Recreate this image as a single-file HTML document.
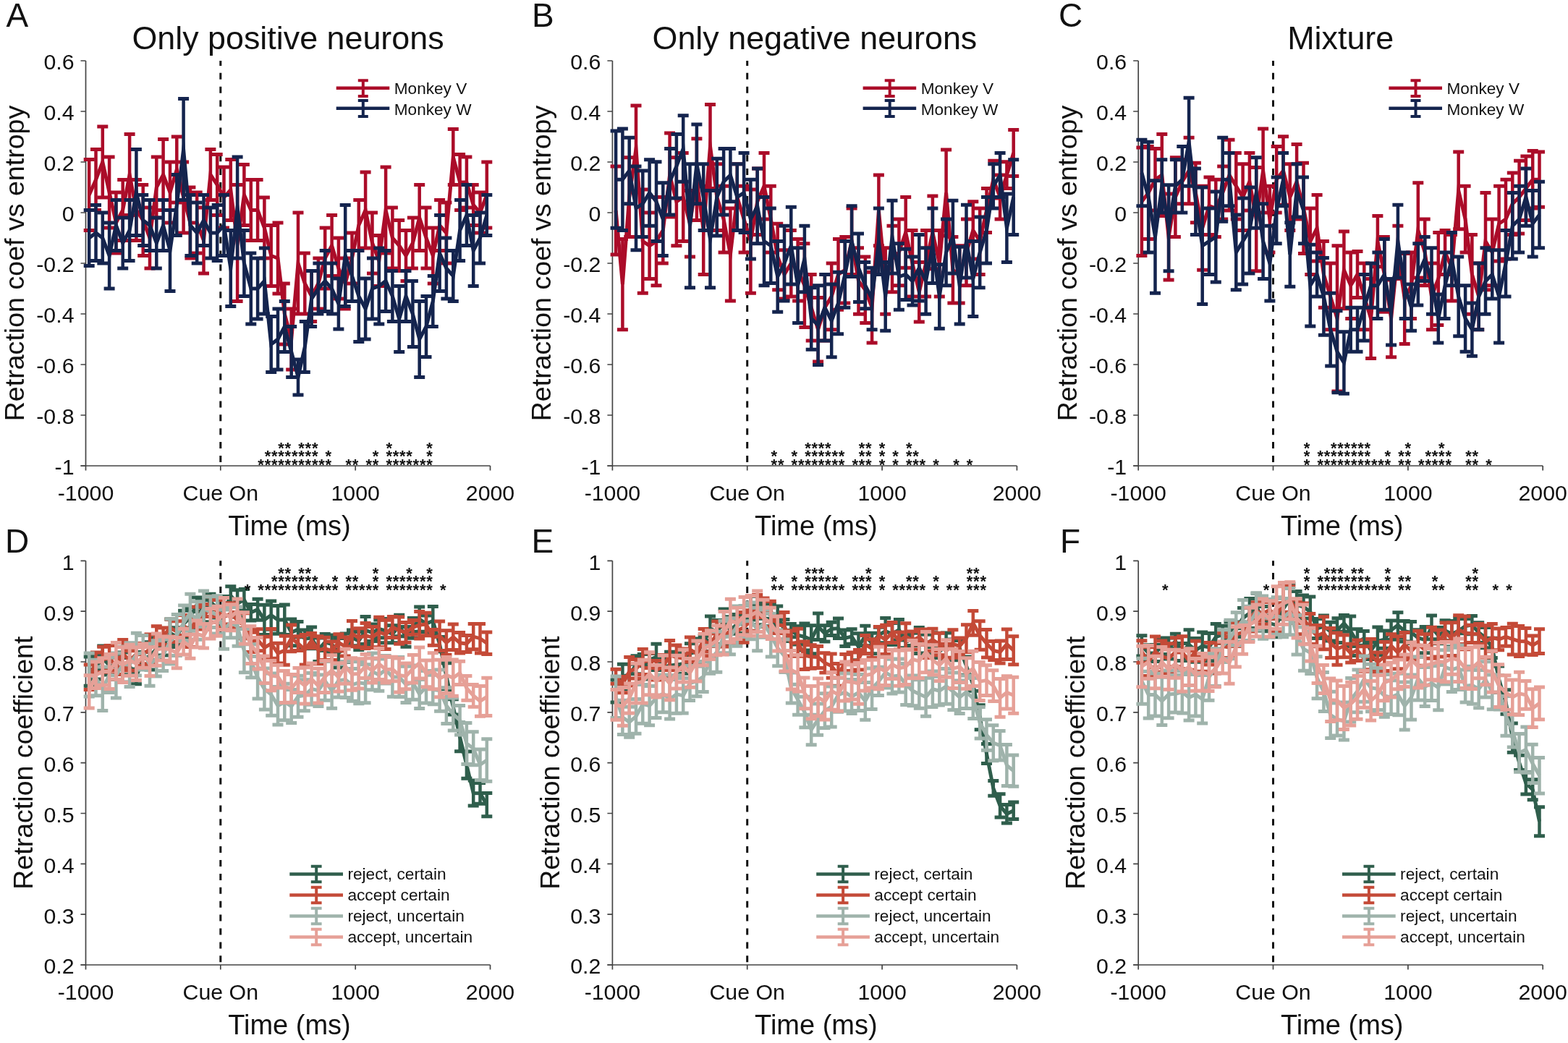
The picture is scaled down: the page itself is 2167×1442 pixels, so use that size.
<!DOCTYPE html><html><head><meta charset="utf-8"><title>Figure</title><style>html,body{margin:0;padding:0;background:#fff;overflow:hidden}svg{display:block}</style></head><body><svg width="2167" height="1442" viewBox="0 0 2167 1442">
<rect width="2167" height="1442" fill="#fff"/>
<style>text{font-family:'Liberation Sans', Arial, sans-serif;fill:#111} .tl{font-size:30.3px} .xl{font-size:38px} .yl{font-size:37.6px} .ttl{font-size:44.85px} .pl{font-size:46px} .lg{font-size:22.6px} .lb{font-size:22.7px} .st{font-size:22px;font-weight:bold}</style>
<text x="398.0" y="67.8" text-anchor="middle" class="ttl">Only positive neurons</text>
<text x="8.5" y="36.8" class="pl">A</text>
<text x="7.0" y="763.8" class="pl">D</text>
<path d="M118.5 84.0 V650.5 M111.5 644.0 H677.5" stroke="#444" stroke-width="1.7" fill="none"/>
<path d="M111.5 84.0 H118.5 M111.5 154.0 H118.5 M111.5 224.0 H118.5 M111.5 294.0 H118.5 M111.5 364.0 H118.5 M111.5 434.0 H118.5 M111.5 504.0 H118.5 M111.5 574.0 H118.5 M111.5 644.0 H118.5 M304.8 644.0 V650.5 M491.2 644.0 V650.5 M677.5 644.0 V650.5" stroke="#444" stroke-width="1.7" fill="none"/>
<text x="102.5" y="96.4" text-anchor="end" class="tl">0.6</text>
<text x="102.5" y="166.4" text-anchor="end" class="tl">0.4</text>
<text x="102.5" y="236.4" text-anchor="end" class="tl">0.2</text>
<text x="102.5" y="306.4" text-anchor="end" class="tl">0</text>
<text x="102.5" y="376.4" text-anchor="end" class="tl">-0.2</text>
<text x="102.5" y="446.4" text-anchor="end" class="tl">-0.4</text>
<text x="102.5" y="516.4" text-anchor="end" class="tl">-0.6</text>
<text x="102.5" y="586.4" text-anchor="end" class="tl">-0.8</text>
<text x="102.5" y="656.4" text-anchor="end" class="tl">-1</text>
<text x="118.5" y="692.0" text-anchor="middle" class="tl">-1000</text>
<text x="304.8" y="692.0" text-anchor="middle" class="tl">Cue On</text>
<text x="491.2" y="692.0" text-anchor="middle" class="tl">1000</text>
<text x="677.5" y="692.0" text-anchor="middle" class="tl">2000</text>
<line x1="304.8" y1="84.0" x2="304.8" y2="644.0" stroke="#111" stroke-width="3" stroke-dasharray="9 9.9" stroke-dashoffset="-16.8"/>
<text x="400.0" y="740.0" text-anchor="middle" class="xl">Time (ms)</text>
<text transform="translate(33.3 364.0) rotate(-90)" text-anchor="middle" class="yl">Retraction coef vs entropy</text>
<path d="M118.5 775.3 V1340.5 M111.5 1334.0 H677.5" stroke="#444" stroke-width="1.7" fill="none"/>
<path d="M111.5 775.3 H118.5 M111.5 845.1 H118.5 M111.5 915.0 H118.5 M111.5 984.8 H118.5 M111.5 1054.7 H118.5 M111.5 1124.5 H118.5 M111.5 1194.3 H118.5 M111.5 1264.2 H118.5 M111.5 1334.0 H118.5 M304.8 1334.0 V1340.5 M491.2 1334.0 V1340.5 M677.5 1334.0 V1340.5" stroke="#444" stroke-width="1.7" fill="none"/>
<text x="102.5" y="787.7" text-anchor="end" class="tl">1</text>
<text x="102.5" y="857.5" text-anchor="end" class="tl">0.9</text>
<text x="102.5" y="927.4" text-anchor="end" class="tl">0.8</text>
<text x="102.5" y="997.2" text-anchor="end" class="tl">0.7</text>
<text x="102.5" y="1067.1" text-anchor="end" class="tl">0.6</text>
<text x="102.5" y="1136.9" text-anchor="end" class="tl">0.5</text>
<text x="102.5" y="1206.7" text-anchor="end" class="tl">0.4</text>
<text x="102.5" y="1276.6" text-anchor="end" class="tl">0.3</text>
<text x="102.5" y="1346.4" text-anchor="end" class="tl">0.2</text>
<text x="118.5" y="1382.0" text-anchor="middle" class="tl">-1000</text>
<text x="304.8" y="1382.0" text-anchor="middle" class="tl">Cue On</text>
<text x="491.2" y="1382.0" text-anchor="middle" class="tl">1000</text>
<text x="677.5" y="1382.0" text-anchor="middle" class="tl">2000</text>
<line x1="304.8" y1="775.3" x2="304.8" y2="1334.0" stroke="#111" stroke-width="3" stroke-dasharray="9 9.9" stroke-dashoffset="-16.8"/>
<text x="400.0" y="1430.0" text-anchor="middle" class="xl">Time (ms)</text>
<text transform="translate(44.7 1054.7) rotate(-90)" text-anchor="middle" class="yl">Retraction coefficient</text>
<g stroke="#ab0c29" fill="none" stroke-linejoin="miter" stroke-miterlimit="10"><path d="M123.2 269.5 L132.5 248.5 L141.8 224.0 L151.1 266.0 L160.4 308.0 L169.7 290.5 L179.1 241.5 L188.4 290.5 L197.7 304.5 L207.0 329.0 L216.3 259.0 L225.6 241.5 L235.0 266.0 L244.3 234.5 L253.6 273.0 L262.9 308.0 L272.2 308.0 L281.5 332.5 L290.9 241.5 L300.2 255.5 L309.5 273.0 L318.8 262.5 L328.1 336.0 L337.4 269.5 L346.8 290.5 L356.1 290.5 L365.4 315.0 L374.7 353.5 L384.0 357.0 L393.3 434.0 L402.7 469.0 L412.0 364.0 L421.3 392.0 L430.6 409.5 L439.9 392.0 L449.2 357.0 L458.6 339.5 L467.9 371.0 L477.2 392.0 L486.5 357.0 L495.8 311.5 L505.1 290.5 L514.5 336.0 L523.8 360.5 L533.1 290.5 L542.4 329.0 L551.7 339.5 L561.0 353.5 L570.4 336.0 L579.7 301.0 L589.0 329.0 L598.3 353.5 L607.6 311.5 L616.9 322.0 L626.3 217.0 L635.6 252.0 L644.9 252.0 L654.2 283.5 L663.5 294.0 L672.8 269.5" stroke-width="5"/><path d="M123.2 220.5V318.5M132.5 206.5V290.5M141.8 175.0V273.0M151.1 217.0V315.0M160.4 266.0V350.0M169.7 248.5V332.5M179.1 185.5V297.5M188.4 248.5V332.5M197.7 255.5V353.5M207.0 287.0V371.0M216.3 217.0V301.0M225.6 192.5V290.5M235.0 224.0V308.0M244.3 189.0V280.0M253.6 224.0V322.0M262.9 259.0V357.0M272.2 266.0V350.0M281.5 287.0V378.0M290.9 206.5V276.5M300.2 213.5V297.5M309.5 231.0V315.0M318.8 220.5V304.5M328.1 255.5V416.5M337.4 227.5V311.5M346.8 248.5V332.5M356.1 248.5V332.5M365.4 273.0V357.0M374.7 311.5V395.5M384.0 308.0V406.0M393.3 392.0V476.0M402.7 427.0V511.0M412.0 294.0V434.0M421.3 350.0V434.0M430.6 374.5V444.5M439.9 357.0V427.0M449.2 315.0V399.0M458.6 297.5V381.5M467.9 329.0V413.0M477.2 357.0V427.0M486.5 322.0V392.0M495.8 276.5V346.5M505.1 238.0V343.0M514.5 294.0V378.0M523.8 325.5V395.5M533.1 231.0V350.0M542.4 287.0V371.0M551.7 304.5V374.5M561.0 318.5V388.5M570.4 301.0V371.0M579.7 255.5V346.5M589.0 287.0V371.0M598.3 315.0V392.0M607.6 276.5V346.5M616.9 280.0V364.0M626.3 178.5V255.5M635.6 213.5V290.5M644.9 217.0V287.0M654.2 255.5V311.5M663.5 266.0V322.0M672.8 224.0V315.0" stroke-width="4.5"/><path d="M115.7 220.5h15M115.7 318.5h15M125.0 206.5h15M125.0 290.5h15M134.3 175.0h15M134.3 273.0h15M143.6 217.0h15M143.6 315.0h15M152.9 266.0h15M152.9 350.0h15M162.2 248.5h15M162.2 332.5h15M171.6 185.5h15M171.6 297.5h15M180.9 248.5h15M180.9 332.5h15M190.2 255.5h15M190.2 353.5h15M199.5 287.0h15M199.5 371.0h15M208.8 217.0h15M208.8 301.0h15M218.1 192.5h15M218.1 290.5h15M227.5 224.0h15M227.5 308.0h15M236.8 189.0h15M236.8 280.0h15M246.1 224.0h15M246.1 322.0h15M255.4 259.0h15M255.4 357.0h15M264.7 266.0h15M264.7 350.0h15M274.0 287.0h15M274.0 378.0h15M283.4 206.5h15M283.4 276.5h15M292.7 213.5h15M292.7 297.5h15M302.0 231.0h15M302.0 315.0h15M311.3 220.5h15M311.3 304.5h15M320.6 255.5h15M320.6 416.5h15M329.9 227.5h15M329.9 311.5h15M339.3 248.5h15M339.3 332.5h15M348.6 248.5h15M348.6 332.5h15M357.9 273.0h15M357.9 357.0h15M367.2 311.5h15M367.2 395.5h15M376.5 308.0h15M376.5 406.0h15M385.8 392.0h15M385.8 476.0h15M395.2 427.0h15M395.2 511.0h15M404.5 294.0h15M404.5 434.0h15M413.8 350.0h15M413.8 434.0h15M423.1 374.5h15M423.1 444.5h15M432.4 357.0h15M432.4 427.0h15M441.7 315.0h15M441.7 399.0h15M451.1 297.5h15M451.1 381.5h15M460.4 329.0h15M460.4 413.0h15M469.7 357.0h15M469.7 427.0h15M479.0 322.0h15M479.0 392.0h15M488.3 276.5h15M488.3 346.5h15M497.6 238.0h15M497.6 343.0h15M507.0 294.0h15M507.0 378.0h15M516.3 325.5h15M516.3 395.5h15M525.6 231.0h15M525.6 350.0h15M534.9 287.0h15M534.9 371.0h15M544.2 304.5h15M544.2 374.5h15M553.5 318.5h15M553.5 388.5h15M562.9 301.0h15M562.9 371.0h15M572.2 255.5h15M572.2 346.5h15M581.5 287.0h15M581.5 371.0h15M590.8 315.0h15M590.8 392.0h15M600.1 276.5h15M600.1 346.5h15M609.4 280.0h15M609.4 364.0h15M618.8 178.5h15M618.8 255.5h15M628.1 213.5h15M628.1 290.5h15M637.4 217.0h15M637.4 287.0h15M646.7 255.5h15M646.7 311.5h15M656.0 266.0h15M656.0 322.0h15M665.3 224.0h15M665.3 315.0h15" stroke-width="5"/></g>
<g stroke="#14244e" fill="none" stroke-linejoin="miter" stroke-miterlimit="10"><path d="M123.2 329.0 L132.5 322.0 L141.8 329.0 L151.1 353.5 L160.4 311.5 L169.7 336.0 L179.1 318.5 L188.4 266.0 L197.7 304.5 L207.0 311.5 L216.3 336.0 L225.6 311.5 L235.0 346.5 L244.3 283.5 L253.6 206.5 L262.9 311.5 L272.2 322.0 L281.5 304.5 L290.9 322.0 L300.2 322.0 L309.5 311.5 L318.8 371.0 L328.1 287.0 L337.4 364.0 L346.8 399.0 L356.1 399.0 L365.4 388.5 L374.7 476.0 L384.0 469.0 L393.3 451.5 L402.7 486.5 L412.0 521.5 L421.3 479.5 L430.6 413.0 L439.9 399.0 L449.2 388.5 L458.6 399.0 L467.9 420.0 L477.2 353.5 L486.5 381.5 L495.8 409.5 L505.1 427.0 L514.5 399.0 L523.8 395.5 L533.1 388.5 L542.4 409.5 L551.7 441.0 L561.0 409.5 L570.4 434.0 L579.7 469.0 L589.0 451.5 L598.3 416.5 L607.6 350.0 L616.9 371.0 L626.3 381.5 L635.6 318.5 L644.9 297.5 L654.2 346.5 L663.5 329.0 L672.8 297.5" stroke-width="5"/><path d="M123.2 290.5V367.5M132.5 283.5V360.5M141.8 294.0V364.0M151.1 308.0V399.0M160.4 276.5V346.5M169.7 301.0V371.0M179.1 276.5V360.5M188.4 206.5V325.5M197.7 269.5V339.5M207.0 276.5V346.5M216.3 301.0V371.0M225.6 276.5V346.5M235.0 290.5V402.5M244.3 241.5V325.5M253.6 136.5V276.5M262.9 269.5V353.5M272.2 280.0V364.0M281.5 269.5V339.5M290.9 287.0V357.0M300.2 283.5V360.5M309.5 269.5V353.5M318.8 318.5V423.5M328.1 217.0V357.0M337.4 318.5V409.5M346.8 350.0V448.0M356.1 357.0V441.0M365.4 343.0V434.0M374.7 437.5V514.5M384.0 427.0V511.0M393.3 416.5V486.5M402.7 451.5V521.5M412.0 497.0V546.0M421.3 444.5V514.5M430.6 374.5V451.5M439.9 364.0V434.0M449.2 346.5V430.5M458.6 364.0V434.0M467.9 385.0V455.0M477.2 283.5V423.5M486.5 346.5V416.5M495.8 346.5V472.5M505.1 385.0V469.0M514.5 357.0V441.0M523.8 343.0V448.0M533.1 346.5V430.5M542.4 374.5V444.5M551.7 395.5V486.5M561.0 374.5V444.5M570.4 388.5V479.5M579.7 416.5V521.5M589.0 409.5V493.5M598.3 381.5V451.5M607.6 297.5V402.5M616.9 329.0V413.0M626.3 346.5V416.5M635.6 276.5V360.5M644.9 255.5V339.5M654.2 297.5V395.5M663.5 294.0V364.0M672.8 269.5V325.5" stroke-width="4.5"/><path d="M115.7 290.5h15M115.7 367.5h15M125.0 283.5h15M125.0 360.5h15M134.3 294.0h15M134.3 364.0h15M143.6 308.0h15M143.6 399.0h15M152.9 276.5h15M152.9 346.5h15M162.2 301.0h15M162.2 371.0h15M171.6 276.5h15M171.6 360.5h15M180.9 206.5h15M180.9 325.5h15M190.2 269.5h15M190.2 339.5h15M199.5 276.5h15M199.5 346.5h15M208.8 301.0h15M208.8 371.0h15M218.1 276.5h15M218.1 346.5h15M227.5 290.5h15M227.5 402.5h15M236.8 241.5h15M236.8 325.5h15M246.1 136.5h15M246.1 276.5h15M255.4 269.5h15M255.4 353.5h15M264.7 280.0h15M264.7 364.0h15M274.0 269.5h15M274.0 339.5h15M283.4 287.0h15M283.4 357.0h15M292.7 283.5h15M292.7 360.5h15M302.0 269.5h15M302.0 353.5h15M311.3 318.5h15M311.3 423.5h15M320.6 217.0h15M320.6 357.0h15M329.9 318.5h15M329.9 409.5h15M339.3 350.0h15M339.3 448.0h15M348.6 357.0h15M348.6 441.0h15M357.9 343.0h15M357.9 434.0h15M367.2 437.5h15M367.2 514.5h15M376.5 427.0h15M376.5 511.0h15M385.8 416.5h15M385.8 486.5h15M395.2 451.5h15M395.2 521.5h15M404.5 497.0h15M404.5 546.0h15M413.8 444.5h15M413.8 514.5h15M423.1 374.5h15M423.1 451.5h15M432.4 364.0h15M432.4 434.0h15M441.7 346.5h15M441.7 430.5h15M451.1 364.0h15M451.1 434.0h15M460.4 385.0h15M460.4 455.0h15M469.7 283.5h15M469.7 423.5h15M479.0 346.5h15M479.0 416.5h15M488.3 346.5h15M488.3 472.5h15M497.6 385.0h15M497.6 469.0h15M507.0 357.0h15M507.0 441.0h15M516.3 343.0h15M516.3 448.0h15M525.6 346.5h15M525.6 430.5h15M534.9 374.5h15M534.9 444.5h15M544.2 395.5h15M544.2 486.5h15M553.5 374.5h15M553.5 444.5h15M562.9 388.5h15M562.9 479.5h15M572.2 416.5h15M572.2 521.5h15M581.5 409.5h15M581.5 493.5h15M590.8 381.5h15M590.8 451.5h15M600.1 297.5h15M600.1 402.5h15M609.4 329.0h15M609.4 413.0h15M618.8 346.5h15M618.8 416.5h15M628.1 276.5h15M628.1 360.5h15M637.4 255.5h15M637.4 339.5h15M646.7 297.5h15M646.7 395.5h15M656.0 294.0h15M656.0 364.0h15M665.3 269.5h15M665.3 325.5h15" stroke-width="5"/></g>
<g stroke="#2f5e4c" fill="none" stroke-linejoin="miter" stroke-miterlimit="10"><path d="M123.2 928.1 L132.5 922.5 L141.8 909.7 L151.1 919.9 L160.4 921.8 L169.7 922.7 L179.1 921.1 L188.4 935.3 L197.7 911.5 L207.0 906.9 L216.3 897.2 L225.6 893.3 L235.0 875.2 L244.3 880.1 L253.6 862.6 L262.9 853.8 L272.2 835.7 L281.5 844.8 L290.9 831.9 L300.2 841.2 L309.5 845.1 L318.8 823.4 L328.1 834.4 L337.4 829.3 L346.8 846.8 L356.1 842.7 L365.4 856.9 L374.7 850.5 L384.0 857.0 L393.3 856.7 L402.7 874.4 L412.0 870.2 L421.3 883.4 L430.6 881.9 L439.9 898.2 L449.2 887.9 L458.6 890.7 L467.9 902.7 L477.2 895.6 L486.5 881.8 L495.8 886.0 L505.1 871.4 L514.5 874.7 L523.8 869.4 L533.1 872.1 L542.4 876.8 L551.7 865.0 L561.0 880.4 L570.4 868.4 L579.7 856.0 L589.0 862.3 L598.3 858.3 L607.6 890.7 L616.9 934.7 L626.3 977.4 L635.6 1019.0 L644.9 1057.7 L654.2 1096.5 L663.5 1096.8 L672.8 1112.6" stroke-width="5"/><path d="M123.2 908.0V948.3M132.5 906.2V938.9M141.8 892.9V926.5M151.1 906.7V933.1M160.4 904.3V939.4M169.7 902.1V943.2M179.1 909.6V932.7M188.4 924.9V945.8M197.7 901.4V921.6M207.0 887.7V926.0M216.3 881.8V912.6M225.6 880.4V906.1M235.0 856.0V894.4M244.3 867.7V892.4M253.6 844.2V880.9M262.9 839.7V867.9M272.2 825.9V845.5M281.5 829.7V859.8M290.9 821.3V842.4M300.2 828.4V854.0M309.5 824.5V865.6M318.8 810.8V835.9M328.1 815.7V853.1M337.4 814.5V844.0M346.8 835.6V858.1M356.1 828.3V857.2M365.4 836.3V877.6M374.7 830.9V870.2M384.0 837.6V876.3M393.3 835.9V877.6M402.7 856.0V892.8M412.0 859.6V880.8M421.3 870.9V895.9M430.6 867.0V896.7M439.9 882.0V914.4M449.2 876.4V899.4M458.6 878.1V903.2M467.9 882.4V923.0M477.2 876.0V915.3M486.5 870.9V892.8M495.8 873.6V898.5M505.1 852.4V890.4M514.5 863.0V886.4M523.8 857.1V881.7M533.1 855.4V888.7M542.4 864.7V888.8M551.7 850.2V879.7M561.0 866.5V894.3M570.4 854.5V882.2M579.7 838.9V873.2M589.0 851.0V873.7M598.3 838.4V878.2M607.6 880.6V900.7M616.9 916.8V952.7M626.3 966.8V988.0M635.6 999.1V1038.8M644.9 1039.0V1076.3M654.2 1079.1V1114.0M663.5 1082.4V1111.3M672.8 1096.5V1128.8" stroke-width="4.5"/><path d="M115.7 908.0h15M115.7 948.3h15M125.0 906.2h15M125.0 938.9h15M134.3 892.9h15M134.3 926.5h15M143.6 906.7h15M143.6 933.1h15M152.9 904.3h15M152.9 939.4h15M162.2 902.1h15M162.2 943.2h15M171.6 909.6h15M171.6 932.7h15M180.9 924.9h15M180.9 945.8h15M190.2 901.4h15M190.2 921.6h15M199.5 887.7h15M199.5 926.0h15M208.8 881.8h15M208.8 912.6h15M218.1 880.4h15M218.1 906.1h15M227.5 856.0h15M227.5 894.4h15M236.8 867.7h15M236.8 892.4h15M246.1 844.2h15M246.1 880.9h15M255.4 839.7h15M255.4 867.9h15M264.7 825.9h15M264.7 845.5h15M274.0 829.7h15M274.0 859.8h15M283.4 821.3h15M283.4 842.4h15M292.7 828.4h15M292.7 854.0h15M302.0 824.5h15M302.0 865.6h15M311.3 810.8h15M311.3 835.9h15M320.6 815.7h15M320.6 853.1h15M329.9 814.5h15M329.9 844.0h15M339.3 835.6h15M339.3 858.1h15M348.6 828.3h15M348.6 857.2h15M357.9 836.3h15M357.9 877.6h15M367.2 830.9h15M367.2 870.2h15M376.5 837.6h15M376.5 876.3h15M385.8 835.9h15M385.8 877.6h15M395.2 856.0h15M395.2 892.8h15M404.5 859.6h15M404.5 880.8h15M413.8 870.9h15M413.8 895.9h15M423.1 867.0h15M423.1 896.7h15M432.4 882.0h15M432.4 914.4h15M441.7 876.4h15M441.7 899.4h15M451.1 878.1h15M451.1 903.2h15M460.4 882.4h15M460.4 923.0h15M469.7 876.0h15M469.7 915.3h15M479.0 870.9h15M479.0 892.8h15M488.3 873.6h15M488.3 898.5h15M497.6 852.4h15M497.6 890.4h15M507.0 863.0h15M507.0 886.4h15M516.3 857.1h15M516.3 881.7h15M525.6 855.4h15M525.6 888.7h15M534.9 864.7h15M534.9 888.8h15M544.2 850.2h15M544.2 879.7h15M553.5 866.5h15M553.5 894.3h15M562.9 854.5h15M562.9 882.2h15M572.2 838.9h15M572.2 873.2h15M581.5 851.0h15M581.5 873.7h15M590.8 838.4h15M590.8 878.2h15M600.1 880.6h15M600.1 900.7h15M609.4 916.8h15M609.4 952.7h15M618.8 966.8h15M618.8 988.0h15M628.1 999.1h15M628.1 1038.8h15M637.4 1039.0h15M637.4 1076.3h15M646.7 1079.1h15M646.7 1114.0h15M656.0 1082.4h15M656.0 1111.3h15M665.3 1096.5h15M665.3 1128.8h15" stroke-width="5"/></g>
<g stroke="#c44a37" fill="none" stroke-linejoin="miter" stroke-miterlimit="10"><path d="M123.2 936.4 L132.5 916.0 L141.8 911.8 L151.1 909.8 L160.4 920.9 L169.7 903.5 L179.1 913.4 L188.4 904.4 L197.7 904.9 L207.0 897.4 L216.3 877.1 L225.6 879.7 L235.0 868.0 L244.3 873.1 L253.6 864.5 L262.9 874.0 L272.2 852.9 L281.5 852.7 L290.9 838.7 L300.2 844.9 L309.5 853.0 L318.8 848.3 L328.1 857.5 L337.4 865.3 L346.8 887.8 L356.1 884.7 L365.4 895.4 L374.7 889.8 L384.0 903.1 L393.3 899.2 L402.7 882.3 L412.0 889.7 L421.3 898.2 L430.6 885.7 L439.9 898.7 L449.2 896.9 L458.6 899.6 L467.9 888.3 L477.2 894.0 L486.5 876.1 L495.8 881.7 L505.1 878.9 L514.5 881.0 L523.8 874.0 L533.1 877.3 L542.4 867.1 L551.7 871.6 L561.0 874.4 L570.4 867.4 L579.7 864.3 L589.0 862.9 L598.3 881.4 L607.6 879.3 L616.9 888.5 L626.3 880.8 L635.6 888.8 L644.9 890.0 L654.2 880.2 L663.5 882.7 L672.8 889.3" stroke-width="5"/><path d="M123.2 919.1V953.6M132.5 902.0V929.9M141.8 894.3V929.3M151.1 892.6V927.0M160.4 909.3V932.5M169.7 884.6V922.4M179.1 899.8V926.9M188.4 894.4V914.3M197.7 889.4V920.3M207.0 877.0V917.7M216.3 865.8V888.3M225.6 868.1V891.3M235.0 856.3V879.7M244.3 858.7V887.6M253.6 850.4V878.6M262.9 853.4V894.6M272.2 839.1V866.6M281.5 835.4V870.0M290.9 824.8V852.5M300.2 829.6V860.3M309.5 838.5V867.6M318.8 833.8V862.9M328.1 846.6V868.4M337.4 847.7V882.8M346.8 874.2V901.4M356.1 869.8V899.7M365.4 880.3V910.5M374.7 869.4V910.3M384.0 889.2V916.9M393.3 879.3V919.2M402.7 863.9V900.7M412.0 879.8V899.6M421.3 877.5V919.0M430.6 875.6V895.7M439.9 879.7V917.8M449.2 881.3V912.6M458.6 886.9V912.4M467.9 876.7V899.9M477.2 881.1V906.9M486.5 858.6V893.7M495.8 868.8V894.7M505.1 861.4V896.5M514.5 866.5V895.5M523.8 853.3V894.7M533.1 857.3V897.4M542.4 852.6V881.5M551.7 853.0V890.2M561.0 860.5V888.3M570.4 857.4V877.3M579.7 845.6V883.0M589.0 847.2V878.7M598.3 870.5V892.3M607.6 859.1V899.6M616.9 871.7V905.2M626.3 863.1V898.4M635.6 874.5V903.1M644.9 878.6V901.4M654.2 862.6V897.7M663.5 862.5V902.9M672.8 874.1V904.5" stroke-width="4.5"/><path d="M115.7 919.1h15M115.7 953.6h15M125.0 902.0h15M125.0 929.9h15M134.3 894.3h15M134.3 929.3h15M143.6 892.6h15M143.6 927.0h15M152.9 909.3h15M152.9 932.5h15M162.2 884.6h15M162.2 922.4h15M171.6 899.8h15M171.6 926.9h15M180.9 894.4h15M180.9 914.3h15M190.2 889.4h15M190.2 920.3h15M199.5 877.0h15M199.5 917.7h15M208.8 865.8h15M208.8 888.3h15M218.1 868.1h15M218.1 891.3h15M227.5 856.3h15M227.5 879.7h15M236.8 858.7h15M236.8 887.6h15M246.1 850.4h15M246.1 878.6h15M255.4 853.4h15M255.4 894.6h15M264.7 839.1h15M264.7 866.6h15M274.0 835.4h15M274.0 870.0h15M283.4 824.8h15M283.4 852.5h15M292.7 829.6h15M292.7 860.3h15M302.0 838.5h15M302.0 867.6h15M311.3 833.8h15M311.3 862.9h15M320.6 846.6h15M320.6 868.4h15M329.9 847.7h15M329.9 882.8h15M339.3 874.2h15M339.3 901.4h15M348.6 869.8h15M348.6 899.7h15M357.9 880.3h15M357.9 910.5h15M367.2 869.4h15M367.2 910.3h15M376.5 889.2h15M376.5 916.9h15M385.8 879.3h15M385.8 919.2h15M395.2 863.9h15M395.2 900.7h15M404.5 879.8h15M404.5 899.6h15M413.8 877.5h15M413.8 919.0h15M423.1 875.6h15M423.1 895.7h15M432.4 879.7h15M432.4 917.8h15M441.7 881.3h15M441.7 912.6h15M451.1 886.9h15M451.1 912.4h15M460.4 876.7h15M460.4 899.9h15M469.7 881.1h15M469.7 906.9h15M479.0 858.6h15M479.0 893.7h15M488.3 868.8h15M488.3 894.7h15M497.6 861.4h15M497.6 896.5h15M507.0 866.5h15M507.0 895.5h15M516.3 853.3h15M516.3 894.7h15M525.6 857.3h15M525.6 897.4h15M534.9 852.6h15M534.9 881.5h15M544.2 853.0h15M544.2 890.2h15M553.5 860.5h15M553.5 888.3h15M562.9 857.4h15M562.9 877.3h15M572.2 845.6h15M572.2 883.0h15M581.5 847.2h15M581.5 878.7h15M590.8 870.5h15M590.8 892.3h15M600.1 859.1h15M600.1 899.6h15M609.4 871.7h15M609.4 905.2h15M618.8 863.1h15M618.8 898.4h15M628.1 874.5h15M628.1 903.1h15M637.4 878.6h15M637.4 901.4h15M646.7 862.6h15M646.7 897.7h15M656.0 862.5h15M656.0 902.9h15M665.3 874.1h15M665.3 904.5h15" stroke-width="5"/></g>
<g stroke="#9fb3ab" fill="none" stroke-linejoin="miter" stroke-miterlimit="10"><path d="M123.2 933.0 L132.5 937.1 L141.8 952.3 L151.1 933.2 L160.4 934.1 L169.7 918.4 L179.1 919.2 L188.4 904.6 L197.7 902.2 L207.0 919.1 L216.3 910.4 L225.6 905.7 L235.0 886.9 L244.3 878.0 L253.6 861.7 L262.9 846.7 L272.2 858.0 L281.5 841.6 L290.9 846.1 L300.2 849.9 L309.5 870.2 L318.8 860.6 L328.1 866.2 L337.4 899.7 L346.8 913.7 L356.1 936.6 L365.4 952.5 L374.7 960.1 L384.0 975.7 L393.3 970.5 L402.7 976.5 L412.0 962.8 L421.3 961.3 L430.6 952.4 L439.9 954.7 L449.2 941.3 L458.6 955.2 L467.9 940.8 L477.2 939.5 L486.5 946.8 L495.8 943.8 L505.1 945.2 L514.5 928.3 L523.8 933.1 L533.1 925.7 L542.4 935.9 L551.7 936.0 L561.0 946.4 L570.4 943.6 L579.7 959.5 L589.0 949.7 L598.3 953.5 L607.6 954.6 L616.9 975.6 L626.3 987.5 L635.6 995.7 L644.9 1028.0 L654.2 1034.8 L663.5 1057.3 L672.8 1051.0" stroke-width="5"/><path d="M123.2 903.0V963.0M132.5 912.3V961.8M141.8 922.1V982.5M151.1 909.0V957.4M160.4 903.1V965.1M169.7 893.9V942.9M179.1 888.8V949.5M188.4 875.2V934.0M197.7 878.4V926.0M207.0 889.9V948.3M216.3 885.8V935.0M225.6 884.0V927.4M235.0 855.7V918.1M244.3 849.6V906.4M253.6 836.9V886.5M262.9 821.2V872.2M272.2 831.8V884.3M281.5 816.9V866.4M290.9 824.8V867.4M300.2 823.7V876.1M309.5 843.1V897.3M318.8 839.5V881.7M328.1 839.1V893.3M337.4 869.6V929.8M346.8 890.7V936.8M356.1 907.4V965.9M365.4 924.1V980.9M374.7 931.1V989.2M384.0 949.5V1001.9M393.3 945.3V995.7M402.7 953.6V999.4M412.0 934.2V991.3M421.3 939.8V982.8M430.6 930.6V974.2M439.9 932.9V976.6M449.2 914.5V968.2M458.6 931.3V979.2M467.9 917.5V964.1M477.2 914.4V964.5M486.5 924.5V969.2M495.8 914.8V972.8M505.1 918.7V971.7M514.5 902.9V953.8M523.8 911.0V955.2M533.1 906.4V945.0M542.4 908.6V963.2M551.7 908.5V963.5M561.0 921.3V971.4M570.4 919.9V967.3M579.7 939.4V979.6M589.0 927.5V972.0M598.3 933.2V973.8M607.6 925.9V983.2M616.9 950.7V1000.4M626.3 965.1V1010.0M635.6 975.4V1016.0M644.9 999.5V1056.6M654.2 1011.8V1057.8M663.5 1036.0V1078.5M672.8 1021.7V1080.3" stroke-width="4.5"/><path d="M115.7 903.0h15M115.7 963.0h15M125.0 912.3h15M125.0 961.8h15M134.3 922.1h15M134.3 982.5h15M143.6 909.0h15M143.6 957.4h15M152.9 903.1h15M152.9 965.1h15M162.2 893.9h15M162.2 942.9h15M171.6 888.8h15M171.6 949.5h15M180.9 875.2h15M180.9 934.0h15M190.2 878.4h15M190.2 926.0h15M199.5 889.9h15M199.5 948.3h15M208.8 885.8h15M208.8 935.0h15M218.1 884.0h15M218.1 927.4h15M227.5 855.7h15M227.5 918.1h15M236.8 849.6h15M236.8 906.4h15M246.1 836.9h15M246.1 886.5h15M255.4 821.2h15M255.4 872.2h15M264.7 831.8h15M264.7 884.3h15M274.0 816.9h15M274.0 866.4h15M283.4 824.8h15M283.4 867.4h15M292.7 823.7h15M292.7 876.1h15M302.0 843.1h15M302.0 897.3h15M311.3 839.5h15M311.3 881.7h15M320.6 839.1h15M320.6 893.3h15M329.9 869.6h15M329.9 929.8h15M339.3 890.7h15M339.3 936.8h15M348.6 907.4h15M348.6 965.9h15M357.9 924.1h15M357.9 980.9h15M367.2 931.1h15M367.2 989.2h15M376.5 949.5h15M376.5 1001.9h15M385.8 945.3h15M385.8 995.7h15M395.2 953.6h15M395.2 999.4h15M404.5 934.2h15M404.5 991.3h15M413.8 939.8h15M413.8 982.8h15M423.1 930.6h15M423.1 974.2h15M432.4 932.9h15M432.4 976.6h15M441.7 914.5h15M441.7 968.2h15M451.1 931.3h15M451.1 979.2h15M460.4 917.5h15M460.4 964.1h15M469.7 914.4h15M469.7 964.5h15M479.0 924.5h15M479.0 969.2h15M488.3 914.8h15M488.3 972.8h15M497.6 918.7h15M497.6 971.7h15M507.0 902.9h15M507.0 953.8h15M516.3 911.0h15M516.3 955.2h15M525.6 906.4h15M525.6 945.0h15M534.9 908.6h15M534.9 963.2h15M544.2 908.5h15M544.2 963.5h15M553.5 921.3h15M553.5 971.4h15M562.9 919.9h15M562.9 967.3h15M572.2 939.4h15M572.2 979.6h15M581.5 927.5h15M581.5 972.0h15M590.8 933.2h15M590.8 973.8h15M600.1 925.9h15M600.1 983.2h15M609.4 950.7h15M609.4 1000.4h15M618.8 965.1h15M618.8 1010.0h15M628.1 975.4h15M628.1 1016.0h15M637.4 999.5h15M637.4 1056.6h15M646.7 1011.8h15M646.7 1057.8h15M656.0 1036.0h15M656.0 1078.5h15M665.3 1021.7h15M665.3 1080.3h15" stroke-width="5"/></g>
<g stroke="#e6a097" fill="none" stroke-linejoin="miter" stroke-miterlimit="10"><path d="M123.2 956.5 L132.5 933.2 L141.8 928.5 L151.1 928.5 L160.4 913.8 L169.7 919.1 L179.1 912.8 L188.4 917.7 L197.7 906.9 L207.0 914.7 L216.3 898.0 L225.6 896.5 L235.0 897.8 L244.3 902.6 L253.6 887.2 L262.9 893.8 L272.2 876.5 L281.5 879.2 L290.9 862.2 L300.2 858.7 L309.5 848.4 L318.8 853.7 L328.1 844.3 L337.4 868.6 L346.8 891.6 L356.1 903.2 L365.4 925.8 L374.7 934.2 L384.0 935.3 L393.3 949.6 L402.7 951.8 L412.0 940.5 L421.3 948.0 L430.6 939.0 L439.9 948.2 L449.2 935.5 L458.6 926.8 L467.9 936.4 L477.2 921.2 L486.5 932.1 L495.8 931.4 L505.1 921.0 L514.5 927.0 L523.8 917.9 L533.1 925.7 L542.4 925.0 L551.7 933.6 L561.0 934.9 L570.4 924.7 L579.7 916.5 L589.0 931.3 L598.3 927.7 L607.6 938.0 L616.9 933.5 L626.3 937.2 L635.6 930.4 L644.9 951.3 L654.2 961.8 L663.5 969.4 L672.8 963.4" stroke-width="5"/><path d="M123.2 933.8V979.1M132.5 915.0V951.4M141.8 909.8V947.3M151.1 904.5V952.6M160.4 888.4V939.3M169.7 894.8V943.5M179.1 891.2V934.3M188.4 895.1V940.4M197.7 890.6V923.2M207.0 894.8V934.6M216.3 875.9V920.2M225.6 879.9V913.1M235.0 880.4V915.2M244.3 881.5V923.7M253.6 869.3V905.0M262.9 877.3V910.3M272.2 858.0V895.0M281.5 862.6V895.9M290.9 841.4V882.9M300.2 838.3V879.2M309.5 826.4V870.4M318.8 835.7V871.7M328.1 828.1V860.4M337.4 846.8V890.3M346.8 865.7V917.5M356.1 881.5V924.9M365.4 907.1V944.6M374.7 913.6V954.8M384.0 919.6V951.1M393.3 927.6V971.5M402.7 932.4V971.2M412.0 923.5V957.5M421.3 922.8V973.1M430.6 916.9V961.1M439.9 924.3V972.0M449.2 913.5V957.5M458.6 905.7V947.8M467.9 916.8V956.1M477.2 897.2V945.2M486.5 909.8V954.3M495.8 910.8V952.0M505.1 904.5V937.5M514.5 910.0V943.9M523.8 896.5V939.4M533.1 907.5V943.9M542.4 908.2V941.8M551.7 910.1V957.1M561.0 917.0V952.7M570.4 905.4V944.1M579.7 894.9V938.0M589.0 913.0V949.7M598.3 902.7V952.7M607.6 912.2V963.8M616.9 908.4V958.5M626.3 912.0V962.3M635.6 914.3V946.5M644.9 934.5V968.2M654.2 946.4V977.3M663.5 948.5V990.3M672.8 937.2V989.6" stroke-width="4.5"/><path d="M115.7 933.8h15M115.7 979.1h15M125.0 915.0h15M125.0 951.4h15M134.3 909.8h15M134.3 947.3h15M143.6 904.5h15M143.6 952.6h15M152.9 888.4h15M152.9 939.3h15M162.2 894.8h15M162.2 943.5h15M171.6 891.2h15M171.6 934.3h15M180.9 895.1h15M180.9 940.4h15M190.2 890.6h15M190.2 923.2h15M199.5 894.8h15M199.5 934.6h15M208.8 875.9h15M208.8 920.2h15M218.1 879.9h15M218.1 913.1h15M227.5 880.4h15M227.5 915.2h15M236.8 881.5h15M236.8 923.7h15M246.1 869.3h15M246.1 905.0h15M255.4 877.3h15M255.4 910.3h15M264.7 858.0h15M264.7 895.0h15M274.0 862.6h15M274.0 895.9h15M283.4 841.4h15M283.4 882.9h15M292.7 838.3h15M292.7 879.2h15M302.0 826.4h15M302.0 870.4h15M311.3 835.7h15M311.3 871.7h15M320.6 828.1h15M320.6 860.4h15M329.9 846.8h15M329.9 890.3h15M339.3 865.7h15M339.3 917.5h15M348.6 881.5h15M348.6 924.9h15M357.9 907.1h15M357.9 944.6h15M367.2 913.6h15M367.2 954.8h15M376.5 919.6h15M376.5 951.1h15M385.8 927.6h15M385.8 971.5h15M395.2 932.4h15M395.2 971.2h15M404.5 923.5h15M404.5 957.5h15M413.8 922.8h15M413.8 973.1h15M423.1 916.9h15M423.1 961.1h15M432.4 924.3h15M432.4 972.0h15M441.7 913.5h15M441.7 957.5h15M451.1 905.7h15M451.1 947.8h15M460.4 916.8h15M460.4 956.1h15M469.7 897.2h15M469.7 945.2h15M479.0 909.8h15M479.0 954.3h15M488.3 910.8h15M488.3 952.0h15M497.6 904.5h15M497.6 937.5h15M507.0 910.0h15M507.0 943.9h15M516.3 896.5h15M516.3 939.4h15M525.6 907.5h15M525.6 943.9h15M534.9 908.2h15M534.9 941.8h15M544.2 910.1h15M544.2 957.1h15M553.5 917.0h15M553.5 952.7h15M562.9 905.4h15M562.9 944.1h15M572.2 894.9h15M572.2 938.0h15M581.5 913.0h15M581.5 949.7h15M590.8 902.7h15M590.8 952.7h15M600.1 912.2h15M600.1 963.8h15M609.4 908.4h15M609.4 958.5h15M618.8 912.0h15M618.8 962.3h15M628.1 914.3h15M628.1 946.5h15M637.4 934.5h15M637.4 968.2h15M646.7 946.4h15M646.7 977.3h15M656.0 948.5h15M656.0 990.3h15M665.3 937.2h15M665.3 989.6h15" stroke-width="5"/></g>
<g stroke="#ab0c29" fill="none"><path d="M464.7 121.8H538.3" stroke-width="4.6"/><path d="M501.8 111.2V133.0" stroke-width="4"/><path d="M494.8 111.2h14M494.8 133.0h14" stroke-width="4"/></g>
<text x="544.8" y="130.0" class="lg">Monkey V</text>
<g stroke="#14244e" fill="none"><path d="M464.7 149.7H538.3" stroke-width="4.6"/><path d="M501.8 139.1V160.9" stroke-width="4"/><path d="M494.8 139.1h14M494.8 160.9h14" stroke-width="4"/></g>
<text x="544.8" y="159.4" class="lg">Monkey W</text>
<g stroke="#2f5e4c" fill="none"><path d="M400.3 1208.5H474.0" stroke-width="4.6"/><path d="M437.2 1197.7V1219.3" stroke-width="4"/><path d="M429.8 1197.7h14.8M429.8 1219.3h14.8" stroke-width="4"/></g>
<text x="480.4" y="1216.0" class="lb">reject, certain</text>
<g stroke="#c44a37" fill="none"><path d="M400.3 1237.5H474.0" stroke-width="4.6"/><path d="M437.2 1226.7V1248.3" stroke-width="4"/><path d="M429.8 1226.7h14.8M429.8 1248.3h14.8" stroke-width="4"/></g>
<text x="480.4" y="1245.0" class="lb">accept certain</text>
<g stroke="#9fb3ab" fill="none"><path d="M400.3 1266.5H474.0" stroke-width="4.6"/><path d="M437.2 1255.7V1277.3" stroke-width="4"/><path d="M429.8 1255.7h14.8M429.8 1277.3h14.8" stroke-width="4"/></g>
<text x="480.4" y="1274.0" class="lb">reject, uncertain</text>
<g stroke="#e6a097" fill="none"><path d="M400.3 1295.5H474.0" stroke-width="4.6"/><path d="M437.2 1284.7V1306.3" stroke-width="4"/><path d="M429.8 1284.7h14.8M429.8 1306.3h14.8" stroke-width="4"/></g>
<text x="480.4" y="1303.0" class="lb">accept, uncertain</text>
<g class="st" text-anchor="middle"><text x="360.6" y="649.6">*</text><text x="370.0" y="649.6">*</text><text x="379.3" y="649.6">*</text><text x="388.6" y="649.6">*</text><text x="397.9" y="649.6">*</text><text x="407.2" y="649.6">*</text><text x="416.5" y="649.6">*</text><text x="425.9" y="649.6">*</text><text x="435.2" y="649.6">*</text><text x="444.5" y="649.6">*</text><text x="453.8" y="649.6">*</text><text x="481.8" y="649.6">*</text><text x="491.1" y="649.6">*</text><text x="509.7" y="649.6">*</text><text x="519.0" y="649.6">*</text><text x="537.7" y="649.6">*</text><text x="547.0" y="649.6">*</text><text x="556.3" y="649.6">*</text><text x="565.6" y="649.6">*</text><text x="574.9" y="649.6">*</text><text x="584.2" y="649.6">*</text><text x="593.6" y="649.6">*</text><text x="370.0" y="638.4">*</text><text x="379.3" y="638.4">*</text><text x="388.6" y="638.4">*</text><text x="397.9" y="638.4">*</text><text x="407.2" y="638.4">*</text><text x="416.5" y="638.4">*</text><text x="425.9" y="638.4">*</text><text x="435.2" y="638.4">*</text><text x="453.8" y="638.4">*</text><text x="519.0" y="638.4">*</text><text x="537.7" y="638.4">*</text><text x="547.0" y="638.4">*</text><text x="556.3" y="638.4">*</text><text x="565.6" y="638.4">*</text><text x="593.6" y="638.4">*</text><text x="388.6" y="627.2">*</text><text x="397.9" y="627.2">*</text><text x="416.5" y="627.2">*</text><text x="425.9" y="627.2">*</text><text x="435.2" y="627.2">*</text><text x="537.7" y="627.2">*</text><text x="593.6" y="627.2">*</text></g>
<g class="st" text-anchor="middle"><text x="342.0" y="822.6">*</text><text x="360.6" y="822.6">*</text><text x="370.0" y="822.6">*</text><text x="379.3" y="822.6">*</text><text x="388.6" y="822.6">*</text><text x="397.9" y="822.6">*</text><text x="407.2" y="822.6">*</text><text x="416.5" y="822.6">*</text><text x="425.9" y="822.6">*</text><text x="435.2" y="822.6">*</text><text x="444.5" y="822.6">*</text><text x="453.8" y="822.6">*</text><text x="463.1" y="822.6">*</text><text x="481.8" y="822.6">*</text><text x="491.1" y="822.6">*</text><text x="500.4" y="822.6">*</text><text x="509.7" y="822.6">*</text><text x="519.0" y="822.6">*</text><text x="537.7" y="822.6">*</text><text x="547.0" y="822.6">*</text><text x="556.3" y="822.6">*</text><text x="565.6" y="822.6">*</text><text x="574.9" y="822.6">*</text><text x="584.2" y="822.6">*</text><text x="593.6" y="822.6">*</text><text x="612.2" y="822.6">*</text><text x="379.3" y="811.3">*</text><text x="388.6" y="811.3">*</text><text x="397.9" y="811.3">*</text><text x="407.2" y="811.3">*</text><text x="416.5" y="811.3">*</text><text x="425.9" y="811.3">*</text><text x="435.2" y="811.3">*</text><text x="463.1" y="811.3">*</text><text x="481.8" y="811.3">*</text><text x="491.1" y="811.3">*</text><text x="519.0" y="811.3">*</text><text x="537.7" y="811.3">*</text><text x="547.0" y="811.3">*</text><text x="556.3" y="811.3">*</text><text x="565.6" y="811.3">*</text><text x="574.9" y="811.3">*</text><text x="584.2" y="811.3">*</text><text x="593.6" y="811.3">*</text><text x="388.6" y="800.0">*</text><text x="397.9" y="800.0">*</text><text x="416.5" y="800.0">*</text><text x="425.9" y="800.0">*</text><text x="519.0" y="800.0">*</text><text x="565.6" y="800.0">*</text><text x="593.6" y="800.0">*</text></g>
<text x="1125.9" y="67.8" text-anchor="middle" class="ttl">Only negative neurons</text>
<text x="735.0" y="36.8" class="pl">B</text>
<text x="734.6" y="763.8" class="pl">E</text>
<path d="M846.4 84.0 V650.5 M839.4 644.0 H1405.4" stroke="#444" stroke-width="1.7" fill="none"/>
<path d="M839.4 84.0 H846.4 M839.4 154.0 H846.4 M839.4 224.0 H846.4 M839.4 294.0 H846.4 M839.4 364.0 H846.4 M839.4 434.0 H846.4 M839.4 504.0 H846.4 M839.4 574.0 H846.4 M839.4 644.0 H846.4 M1032.7 644.0 V650.5 M1219.1 644.0 V650.5 M1405.4 644.0 V650.5" stroke="#444" stroke-width="1.7" fill="none"/>
<text x="830.4" y="96.4" text-anchor="end" class="tl">0.6</text>
<text x="830.4" y="166.4" text-anchor="end" class="tl">0.4</text>
<text x="830.4" y="236.4" text-anchor="end" class="tl">0.2</text>
<text x="830.4" y="306.4" text-anchor="end" class="tl">0</text>
<text x="830.4" y="376.4" text-anchor="end" class="tl">-0.2</text>
<text x="830.4" y="446.4" text-anchor="end" class="tl">-0.4</text>
<text x="830.4" y="516.4" text-anchor="end" class="tl">-0.6</text>
<text x="830.4" y="586.4" text-anchor="end" class="tl">-0.8</text>
<text x="830.4" y="656.4" text-anchor="end" class="tl">-1</text>
<text x="846.4" y="692.0" text-anchor="middle" class="tl">-1000</text>
<text x="1032.7" y="692.0" text-anchor="middle" class="tl">Cue On</text>
<text x="1219.1" y="692.0" text-anchor="middle" class="tl">1000</text>
<text x="1405.4" y="692.0" text-anchor="middle" class="tl">2000</text>
<line x1="1032.7" y1="84.0" x2="1032.7" y2="644.0" stroke="#111" stroke-width="3" stroke-dasharray="9 9.9" stroke-dashoffset="-16.8"/>
<text x="1127.9" y="740.0" text-anchor="middle" class="xl">Time (ms)</text>
<text transform="translate(761.2 364.0) rotate(-90)" text-anchor="middle" class="yl">Retraction coef vs entropy</text>
<path d="M846.4 775.3 V1340.5 M839.4 1334.0 H1405.4" stroke="#444" stroke-width="1.7" fill="none"/>
<path d="M839.4 775.3 H846.4 M839.4 845.1 H846.4 M839.4 915.0 H846.4 M839.4 984.8 H846.4 M839.4 1054.7 H846.4 M839.4 1124.5 H846.4 M839.4 1194.3 H846.4 M839.4 1264.2 H846.4 M839.4 1334.0 H846.4 M1032.7 1334.0 V1340.5 M1219.1 1334.0 V1340.5 M1405.4 1334.0 V1340.5" stroke="#444" stroke-width="1.7" fill="none"/>
<text x="830.4" y="787.7" text-anchor="end" class="tl">1</text>
<text x="830.4" y="857.5" text-anchor="end" class="tl">0.9</text>
<text x="830.4" y="927.4" text-anchor="end" class="tl">0.8</text>
<text x="830.4" y="997.2" text-anchor="end" class="tl">0.7</text>
<text x="830.4" y="1067.1" text-anchor="end" class="tl">0.6</text>
<text x="830.4" y="1136.9" text-anchor="end" class="tl">0.5</text>
<text x="830.4" y="1206.7" text-anchor="end" class="tl">0.4</text>
<text x="830.4" y="1276.6" text-anchor="end" class="tl">0.3</text>
<text x="830.4" y="1346.4" text-anchor="end" class="tl">0.2</text>
<text x="846.4" y="1382.0" text-anchor="middle" class="tl">-1000</text>
<text x="1032.7" y="1382.0" text-anchor="middle" class="tl">Cue On</text>
<text x="1219.1" y="1382.0" text-anchor="middle" class="tl">1000</text>
<text x="1405.4" y="1382.0" text-anchor="middle" class="tl">2000</text>
<line x1="1032.7" y1="775.3" x2="1032.7" y2="1334.0" stroke="#111" stroke-width="3" stroke-dasharray="9 9.9" stroke-dashoffset="-16.8"/>
<text x="1127.9" y="1430.0" text-anchor="middle" class="xl">Time (ms)</text>
<text transform="translate(772.6 1054.7) rotate(-90)" text-anchor="middle" class="yl">Retraction coefficient</text>
<g stroke="#ab0c29" fill="none" stroke-linejoin="miter" stroke-miterlimit="10"><path d="M851.1 290.9 L860.4 393.1 L869.7 272.6 L879.0 205.5 L888.3 333.6 L897.6 339.7 L907.0 333.6 L916.3 318.4 L925.6 242.1 L934.9 278.7 L944.2 272.6 L953.5 309.2 L962.9 248.2 L972.2 318.4 L981.5 202.4 L990.8 272.6 L1000.1 303.1 L1009.4 351.9 L1018.8 272.6 L1028.1 303.1 L1037.4 333.6 L1046.7 278.7 L1056.0 257.3 L1065.3 303.1 L1074.7 355.0 L1084.0 379.4 L1093.3 364.1 L1102.6 373.3 L1111.9 394.7 L1121.2 425.2 L1130.6 455.7 L1139.9 425.2 L1149.2 409.9 L1158.5 379.4 L1167.8 373.3 L1177.1 333.6 L1186.5 388.6 L1195.8 400.8 L1205.1 425.2 L1214.4 290.9 L1223.7 388.6 L1233.0 358.0 L1242.4 348.9 L1251.7 321.4 L1261.0 364.1 L1270.3 403.8 L1279.6 364.1 L1288.9 321.4 L1298.3 364.1 L1307.6 266.5 L1316.9 373.3 L1326.2 379.4 L1335.5 348.9 L1344.8 318.4 L1354.2 333.6 L1363.5 290.9 L1372.8 248.2 L1382.1 272.6 L1391.4 242.1 L1400.7 211.6" stroke-width="5"/><path d="M851.1 229.9V351.9M860.4 330.6V455.7M869.7 217.7V327.5M879.0 146.0V265.0M888.3 261.9V405.3M897.6 294.0V385.5M907.0 272.6V394.7M916.3 272.6V364.1M925.6 184.1V300.1M934.9 217.7V339.7M944.2 211.6V333.6M953.5 263.4V355.0M962.9 191.7V304.6M972.2 257.3V379.4M981.5 144.4V260.4M990.8 226.8V318.4M1000.1 257.3V348.9M1009.4 287.9V416.0M1018.8 226.8V318.4M1028.1 257.3V348.9M1037.4 261.9V405.3M1046.7 232.9V324.5M1056.0 211.6V303.1M1065.3 257.3V348.9M1074.7 309.2V400.8M1084.0 345.8V413.0M1093.3 318.4V409.9M1102.6 330.6V416.0M1111.9 336.7V452.6M1121.2 379.4V470.9M1130.6 411.4V499.9M1139.9 379.4V470.9M1149.2 364.1V455.7M1158.5 330.6V428.2M1167.8 327.5V419.1M1177.1 287.9V379.4M1186.5 342.8V434.3M1195.8 355.0V446.5M1205.1 376.3V474.0M1214.4 242.1V339.7M1223.7 342.8V434.3M1233.0 312.3V403.8M1242.4 303.1V394.7M1251.7 272.6V370.2M1261.0 318.4V409.9M1270.3 362.6V445.0M1279.6 318.4V409.9M1288.9 271.1V371.8M1298.3 318.4V409.9M1307.6 207.0V326.0M1316.9 327.5V419.1M1326.2 339.7V419.1M1335.5 303.1V394.7M1344.8 278.7V358.0M1354.2 287.9V379.4M1363.5 260.4V321.4M1372.8 222.2V274.1M1382.1 242.1V303.1M1391.4 223.8V260.4M1400.7 179.5V243.6" stroke-width="4.5"/><path d="M843.6 229.9h15M843.6 351.9h15M852.9 330.6h15M852.9 455.7h15M862.2 217.7h15M862.2 327.5h15M871.5 146.0h15M871.5 265.0h15M880.8 261.9h15M880.8 405.3h15M890.1 294.0h15M890.1 385.5h15M899.5 272.6h15M899.5 394.7h15M908.8 272.6h15M908.8 364.1h15M918.1 184.1h15M918.1 300.1h15M927.4 217.7h15M927.4 339.7h15M936.7 211.6h15M936.7 333.6h15M946.0 263.4h15M946.0 355.0h15M955.4 191.7h15M955.4 304.6h15M964.7 257.3h15M964.7 379.4h15M974.0 144.4h15M974.0 260.4h15M983.3 226.8h15M983.3 318.4h15M992.6 257.3h15M992.6 348.9h15M1001.9 287.9h15M1001.9 416.0h15M1011.3 226.8h15M1011.3 318.4h15M1020.6 257.3h15M1020.6 348.9h15M1029.9 261.9h15M1029.9 405.3h15M1039.2 232.9h15M1039.2 324.5h15M1048.5 211.6h15M1048.5 303.1h15M1057.8 257.3h15M1057.8 348.9h15M1067.2 309.2h15M1067.2 400.8h15M1076.5 345.8h15M1076.5 413.0h15M1085.8 318.4h15M1085.8 409.9h15M1095.1 330.6h15M1095.1 416.0h15M1104.4 336.7h15M1104.4 452.6h15M1113.7 379.4h15M1113.7 470.9h15M1123.1 411.4h15M1123.1 499.9h15M1132.4 379.4h15M1132.4 470.9h15M1141.7 364.1h15M1141.7 455.7h15M1151.0 330.6h15M1151.0 428.2h15M1160.3 327.5h15M1160.3 419.1h15M1169.6 287.9h15M1169.6 379.4h15M1179.0 342.8h15M1179.0 434.3h15M1188.3 355.0h15M1188.3 446.5h15M1197.6 376.3h15M1197.6 474.0h15M1206.9 242.1h15M1206.9 339.7h15M1216.2 342.8h15M1216.2 434.3h15M1225.5 312.3h15M1225.5 403.8h15M1234.9 303.1h15M1234.9 394.7h15M1244.2 272.6h15M1244.2 370.2h15M1253.5 318.4h15M1253.5 409.9h15M1262.8 362.6h15M1262.8 445.0h15M1272.1 318.4h15M1272.1 409.9h15M1281.4 271.1h15M1281.4 371.8h15M1290.8 318.4h15M1290.8 409.9h15M1300.1 207.0h15M1300.1 326.0h15M1309.4 327.5h15M1309.4 419.1h15M1318.7 339.7h15M1318.7 419.1h15M1328.0 303.1h15M1328.0 394.7h15M1337.3 278.7h15M1337.3 358.0h15M1346.7 287.9h15M1346.7 379.4h15M1356.0 260.4h15M1356.0 321.4h15M1365.3 222.2h15M1365.3 274.1h15M1374.6 242.1h15M1374.6 303.1h15M1383.9 223.8h15M1383.9 260.4h15M1393.2 179.5h15M1393.2 243.6h15" stroke-width="5"/></g>
<g stroke="#14244e" fill="none" stroke-linejoin="miter" stroke-miterlimit="10"><path d="M851.1 248.2 L860.4 248.2 L869.7 236.0 L879.0 287.9 L888.3 281.7 L897.6 266.5 L907.0 278.7 L916.3 303.1 L925.6 251.2 L934.9 229.9 L944.2 205.5 L953.5 312.3 L962.9 226.8 L972.2 272.6 L981.5 330.6 L990.8 272.6 L1000.1 251.2 L1009.4 242.1 L1018.8 272.6 L1028.1 266.5 L1037.4 303.1 L1046.7 284.8 L1056.0 333.6 L1065.3 339.7 L1074.7 382.5 L1084.0 364.1 L1093.3 339.7 L1102.6 394.7 L1111.9 358.0 L1121.2 440.4 L1130.6 449.6 L1139.9 425.2 L1149.2 443.5 L1158.5 419.1 L1167.8 379.4 L1177.1 333.6 L1186.5 370.2 L1195.8 394.7 L1205.1 413.0 L1214.4 333.6 L1223.7 409.9 L1233.0 327.5 L1242.4 382.5 L1251.7 379.4 L1261.0 388.6 L1270.3 370.2 L1279.6 388.6 L1288.9 339.7 L1298.3 409.9 L1307.6 348.9 L1316.9 327.5 L1326.2 394.7 L1335.5 333.6 L1344.8 385.5 L1354.2 348.9 L1363.5 318.4 L1372.8 257.3 L1382.1 242.1 L1391.4 315.3 L1400.7 272.6" stroke-width="5"/><path d="M851.1 181.0V315.3M860.4 178.0V318.4M869.7 190.2V281.7M879.0 229.9V345.8M888.3 236.0V327.5M897.6 220.7V312.3M907.0 223.8V333.6M916.3 252.8V353.5M925.6 205.5V297.0M934.9 185.6V274.1M944.2 159.7V251.2M953.5 226.8V397.7M962.9 171.9V281.7M972.2 226.8V318.4M981.5 263.4V397.7M990.8 219.2V326.0M1000.1 205.5V297.0M1009.4 205.5V278.7M1018.8 226.8V318.4M1028.1 211.6V321.4M1037.4 248.2V358.0M1046.7 232.9V336.7M1056.0 272.6V394.7M1065.3 287.9V391.6M1074.7 333.6V431.3M1084.0 312.3V416.0M1093.3 286.3V393.1M1102.6 342.8V446.5M1111.9 312.3V403.8M1121.2 397.7V483.2M1130.6 394.7V504.5M1139.9 379.4V470.9M1149.2 393.1V493.8M1158.5 376.3V461.8M1167.8 333.6V425.2M1177.1 284.8V382.5M1186.5 322.9V417.5M1195.8 362.6V426.7M1205.1 370.2V455.7M1214.4 287.9V379.4M1223.7 362.6V457.2M1233.0 277.2V377.9M1242.4 336.7V428.2M1251.7 344.3V414.5M1261.0 355.0V422.1M1270.3 324.5V416.0M1279.6 342.8V434.3M1288.9 287.9V391.6M1298.3 365.7V454.2M1307.6 303.1V394.7M1316.9 277.2V377.9M1326.2 341.3V448.1M1335.5 283.3V384.0M1344.8 333.6V437.4M1354.2 300.1V397.7M1363.5 272.6V364.1M1372.8 226.8V287.9M1382.1 211.6V272.6M1391.4 268.0V362.6M1400.7 220.7V324.5" stroke-width="4.5"/><path d="M843.6 181.0h15M843.6 315.3h15M852.9 178.0h15M852.9 318.4h15M862.2 190.2h15M862.2 281.7h15M871.5 229.9h15M871.5 345.8h15M880.8 236.0h15M880.8 327.5h15M890.1 220.7h15M890.1 312.3h15M899.5 223.8h15M899.5 333.6h15M908.8 252.8h15M908.8 353.5h15M918.1 205.5h15M918.1 297.0h15M927.4 185.6h15M927.4 274.1h15M936.7 159.7h15M936.7 251.2h15M946.0 226.8h15M946.0 397.7h15M955.4 171.9h15M955.4 281.7h15M964.7 226.8h15M964.7 318.4h15M974.0 263.4h15M974.0 397.7h15M983.3 219.2h15M983.3 326.0h15M992.6 205.5h15M992.6 297.0h15M1001.9 205.5h15M1001.9 278.7h15M1011.3 226.8h15M1011.3 318.4h15M1020.6 211.6h15M1020.6 321.4h15M1029.9 248.2h15M1029.9 358.0h15M1039.2 232.9h15M1039.2 336.7h15M1048.5 272.6h15M1048.5 394.7h15M1057.8 287.9h15M1057.8 391.6h15M1067.2 333.6h15M1067.2 431.3h15M1076.5 312.3h15M1076.5 416.0h15M1085.8 286.3h15M1085.8 393.1h15M1095.1 342.8h15M1095.1 446.5h15M1104.4 312.3h15M1104.4 403.8h15M1113.7 397.7h15M1113.7 483.2h15M1123.1 394.7h15M1123.1 504.5h15M1132.4 379.4h15M1132.4 470.9h15M1141.7 393.1h15M1141.7 493.8h15M1151.0 376.3h15M1151.0 461.8h15M1160.3 333.6h15M1160.3 425.2h15M1169.6 284.8h15M1169.6 382.5h15M1179.0 322.9h15M1179.0 417.5h15M1188.3 362.6h15M1188.3 426.7h15M1197.6 370.2h15M1197.6 455.7h15M1206.9 287.9h15M1206.9 379.4h15M1216.2 362.6h15M1216.2 457.2h15M1225.5 277.2h15M1225.5 377.9h15M1234.9 336.7h15M1234.9 428.2h15M1244.2 344.3h15M1244.2 414.5h15M1253.5 355.0h15M1253.5 422.1h15M1262.8 324.5h15M1262.8 416.0h15M1272.1 342.8h15M1272.1 434.3h15M1281.4 287.9h15M1281.4 391.6h15M1290.8 365.7h15M1290.8 454.2h15M1300.1 303.1h15M1300.1 394.7h15M1309.4 277.2h15M1309.4 377.9h15M1318.7 341.3h15M1318.7 448.1h15M1328.0 283.3h15M1328.0 384.0h15M1337.3 333.6h15M1337.3 437.4h15M1346.7 300.1h15M1346.7 397.7h15M1356.0 272.6h15M1356.0 364.1h15M1365.3 226.8h15M1365.3 287.9h15M1374.6 211.6h15M1374.6 272.6h15M1383.9 268.0h15M1383.9 362.6h15M1393.2 220.7h15M1393.2 324.5h15" stroke-width="5"/></g>
<g stroke="#2f5e4c" fill="none" stroke-linejoin="miter" stroke-miterlimit="10"><path d="M851.1 955.5 L860.4 935.6 L869.7 932.4 L879.0 919.3 L888.3 921.6 L897.6 912.2 L907.0 908.4 L916.3 922.2 L925.6 920.2 L934.9 918.9 L944.2 917.8 L953.5 903.6 L962.9 901.0 L972.2 889.7 L981.5 868.7 L990.8 874.0 L1000.1 859.8 L1009.4 871.1 L1018.8 862.8 L1028.1 862.8 L1037.4 840.7 L1046.7 849.9 L1056.0 844.3 L1065.3 850.5 L1074.7 850.3 L1084.0 871.5 L1093.3 871.6 L1102.6 878.3 L1111.9 880.5 L1121.2 884.2 L1130.6 866.2 L1139.9 875.8 L1149.2 869.4 L1158.5 868.8 L1167.8 882.2 L1177.1 880.0 L1186.5 894.3 L1195.8 878.9 L1205.1 889.5 L1214.4 878.0 L1223.7 872.6 L1233.0 876.5 L1242.4 870.7 L1251.7 887.3 L1261.0 883.9 L1270.3 885.5 L1279.6 890.2 L1288.9 884.6 L1298.3 900.8 L1307.6 893.1 L1316.9 898.4 L1326.2 896.3 L1335.5 920.6 L1344.8 946.4 L1354.2 991.8 L1363.5 1042.1 L1372.8 1089.9 L1382.1 1114.0 L1391.4 1125.3 L1400.7 1120.7" stroke-width="5"/><path d="M851.1 940.0V971.0M860.4 918.3V952.8M869.7 918.3V946.4M879.0 906.8V931.8M888.3 904.4V938.9M897.6 903.4V921.1M907.0 890.2V926.5M916.3 910.1V934.2M925.6 901.2V939.2M934.9 901.4V936.4M944.2 904.3V931.2M953.5 889.8V917.4M962.9 883.0V919.1M972.2 879.0V900.5M981.5 851.9V885.5M990.8 857.5V890.5M1000.1 842.1V877.4M1009.4 852.8V889.4M1018.8 849.4V876.3M1028.1 850.1V875.5M1037.4 824.3V857.1M1046.7 836.0V863.8M1056.0 833.4V855.2M1065.3 835.1V865.8M1074.7 838.0V862.5M1084.0 856.4V886.6M1093.3 862.5V880.7M1102.6 865.7V890.9M1111.9 862.1V898.9M1121.2 864.8V903.7M1130.6 848.0V884.5M1139.9 864.7V887.0M1149.2 860.2V878.5M1158.5 855.1V882.6M1167.8 871.0V893.5M1177.1 869.7V890.3M1186.5 875.8V912.7M1195.8 865.2V892.7M1205.1 875.2V903.7M1214.4 867.2V888.7M1223.7 854.4V890.9M1233.0 861.6V891.4M1242.4 856.4V885.1M1251.7 878.8V895.8M1261.0 875.3V892.6M1270.3 867.6V903.4M1279.6 877.3V903.1M1288.9 874.7V894.5M1298.3 892.2V909.5M1307.6 875.1V911.2M1316.9 884.0V912.8M1326.2 885.5V907.2M1335.5 908.0V933.2M1344.8 937.5V955.3M1354.2 974.7V1008.8M1363.5 1028.5V1055.6M1372.8 1079.6V1100.3M1382.1 1097.8V1130.1M1391.4 1112.6V1138.0M1400.7 1109.0V1132.4" stroke-width="4.5"/><path d="M843.6 940.0h15M843.6 971.0h15M852.9 918.3h15M852.9 952.8h15M862.2 918.3h15M862.2 946.4h15M871.5 906.8h15M871.5 931.8h15M880.8 904.4h15M880.8 938.9h15M890.1 903.4h15M890.1 921.1h15M899.5 890.2h15M899.5 926.5h15M908.8 910.1h15M908.8 934.2h15M918.1 901.2h15M918.1 939.2h15M927.4 901.4h15M927.4 936.4h15M936.7 904.3h15M936.7 931.2h15M946.0 889.8h15M946.0 917.4h15M955.4 883.0h15M955.4 919.1h15M964.7 879.0h15M964.7 900.5h15M974.0 851.9h15M974.0 885.5h15M983.3 857.5h15M983.3 890.5h15M992.6 842.1h15M992.6 877.4h15M1001.9 852.8h15M1001.9 889.4h15M1011.3 849.4h15M1011.3 876.3h15M1020.6 850.1h15M1020.6 875.5h15M1029.9 824.3h15M1029.9 857.1h15M1039.2 836.0h15M1039.2 863.8h15M1048.5 833.4h15M1048.5 855.2h15M1057.8 835.1h15M1057.8 865.8h15M1067.2 838.0h15M1067.2 862.5h15M1076.5 856.4h15M1076.5 886.6h15M1085.8 862.5h15M1085.8 880.7h15M1095.1 865.7h15M1095.1 890.9h15M1104.4 862.1h15M1104.4 898.9h15M1113.7 864.8h15M1113.7 903.7h15M1123.1 848.0h15M1123.1 884.5h15M1132.4 864.7h15M1132.4 887.0h15M1141.7 860.2h15M1141.7 878.5h15M1151.0 855.1h15M1151.0 882.6h15M1160.3 871.0h15M1160.3 893.5h15M1169.6 869.7h15M1169.6 890.3h15M1179.0 875.8h15M1179.0 912.7h15M1188.3 865.2h15M1188.3 892.7h15M1197.6 875.2h15M1197.6 903.7h15M1206.9 867.2h15M1206.9 888.7h15M1216.2 854.4h15M1216.2 890.9h15M1225.5 861.6h15M1225.5 891.4h15M1234.9 856.4h15M1234.9 885.1h15M1244.2 878.8h15M1244.2 895.8h15M1253.5 875.3h15M1253.5 892.6h15M1262.8 867.6h15M1262.8 903.4h15M1272.1 877.3h15M1272.1 903.1h15M1281.4 874.7h15M1281.4 894.5h15M1290.8 892.2h15M1290.8 909.5h15M1300.1 875.1h15M1300.1 911.2h15M1309.4 884.0h15M1309.4 912.8h15M1318.7 885.5h15M1318.7 907.2h15M1328.0 908.0h15M1328.0 933.2h15M1337.3 937.5h15M1337.3 955.3h15M1346.7 974.7h15M1346.7 1008.8h15M1356.0 1028.5h15M1356.0 1055.6h15M1365.3 1079.6h15M1365.3 1100.3h15M1374.6 1097.8h15M1374.6 1130.1h15M1383.9 1112.6h15M1383.9 1138.0h15M1393.2 1109.0h15M1393.2 1132.4h15" stroke-width="5"/></g>
<g stroke="#c44a37" fill="none" stroke-linejoin="miter" stroke-miterlimit="10"><path d="M851.1 935.2 L860.4 946.6 L869.7 928.2 L879.0 924.7 L888.3 915.0 L897.6 913.1 L907.0 926.6 L916.3 921.9 L925.6 905.9 L934.9 908.6 L944.2 910.3 L953.5 898.0 L962.9 903.5 L972.2 885.3 L981.5 891.4 L990.8 876.3 L1000.1 880.1 L1009.4 871.7 L1018.8 872.1 L1028.1 867.4 L1037.4 858.0 L1046.7 837.9 L1056.0 846.8 L1065.3 844.9 L1074.7 863.7 L1084.0 865.3 L1093.3 889.5 L1102.6 888.3 L1111.9 906.3 L1121.2 908.0 L1130.6 908.5 L1139.9 916.4 L1149.2 920.7 L1158.5 932.9 L1167.8 916.2 L1177.1 914.7 L1186.5 912.2 L1195.8 891.1 L1205.1 896.7 L1214.4 878.5 L1223.7 884.4 L1233.0 874.5 L1242.4 885.9 L1251.7 879.9 L1261.0 885.5 L1270.3 880.8 L1279.6 889.8 L1288.9 884.6 L1298.3 890.5 L1307.6 900.2 L1316.9 890.1 L1326.2 893.3 L1335.5 882.7 L1344.8 861.4 L1354.2 878.5 L1363.5 889.7 L1372.8 899.5 L1382.1 901.5 L1391.4 890.7 L1400.7 899.2" stroke-width="5"/><path d="M851.1 925.2V945.3M860.4 935.5V957.7M869.7 908.4V947.9M879.0 911.4V938.1M888.3 897.6V932.5M897.6 902.8V923.4M907.0 913.4V939.9M916.3 905.6V938.2M925.6 885.4V926.4M934.9 892.0V925.3M944.2 897.0V923.6M953.5 881.0V915.1M962.9 886.3V920.8M972.2 869.5V901.0M981.5 876.0V906.8M990.8 859.1V893.4M1000.1 866.1V894.0M1009.4 855.3V888.1M1018.8 854.8V889.4M1028.1 846.5V888.3M1037.4 843.8V872.3M1046.7 822.4V853.4M1056.0 827.0V866.6M1065.3 831.2V858.5M1074.7 851.8V875.6M1084.0 846.6V884.0M1093.3 872.0V907.0M1102.6 869.2V907.3M1111.9 887.1V925.6M1121.2 891.7V924.3M1130.6 893.4V923.6M1139.9 902.7V930.1M1149.2 904.1V937.3M1158.5 917.5V948.2M1167.8 904.5V927.9M1177.1 901.9V927.5M1186.5 898.5V925.9M1195.8 878.5V903.7M1205.1 883.8V909.5M1214.4 866.5V890.6M1223.7 864.3V904.5M1233.0 860.5V888.5M1242.4 873.9V898.0M1251.7 861.7V898.1M1261.0 872.9V898.0M1270.3 870.3V891.3M1279.6 870.1V909.5M1288.9 869.2V899.9M1298.3 875.3V905.7M1307.6 890.3V910.0M1316.9 870.8V909.3M1326.2 881.9V904.6M1335.5 863.8V901.6M1344.8 844.4V878.3M1354.2 858.8V898.3M1363.5 870.4V908.9M1372.8 886.6V912.4M1382.1 886.0V917.0M1391.4 870.1V911.4M1400.7 879.7V918.8" stroke-width="4.5"/><path d="M843.6 925.2h15M843.6 945.3h15M852.9 935.5h15M852.9 957.7h15M862.2 908.4h15M862.2 947.9h15M871.5 911.4h15M871.5 938.1h15M880.8 897.6h15M880.8 932.5h15M890.1 902.8h15M890.1 923.4h15M899.5 913.4h15M899.5 939.9h15M908.8 905.6h15M908.8 938.2h15M918.1 885.4h15M918.1 926.4h15M927.4 892.0h15M927.4 925.3h15M936.7 897.0h15M936.7 923.6h15M946.0 881.0h15M946.0 915.1h15M955.4 886.3h15M955.4 920.8h15M964.7 869.5h15M964.7 901.0h15M974.0 876.0h15M974.0 906.8h15M983.3 859.1h15M983.3 893.4h15M992.6 866.1h15M992.6 894.0h15M1001.9 855.3h15M1001.9 888.1h15M1011.3 854.8h15M1011.3 889.4h15M1020.6 846.5h15M1020.6 888.3h15M1029.9 843.8h15M1029.9 872.3h15M1039.2 822.4h15M1039.2 853.4h15M1048.5 827.0h15M1048.5 866.6h15M1057.8 831.2h15M1057.8 858.5h15M1067.2 851.8h15M1067.2 875.6h15M1076.5 846.6h15M1076.5 884.0h15M1085.8 872.0h15M1085.8 907.0h15M1095.1 869.2h15M1095.1 907.3h15M1104.4 887.1h15M1104.4 925.6h15M1113.7 891.7h15M1113.7 924.3h15M1123.1 893.4h15M1123.1 923.6h15M1132.4 902.7h15M1132.4 930.1h15M1141.7 904.1h15M1141.7 937.3h15M1151.0 917.5h15M1151.0 948.2h15M1160.3 904.5h15M1160.3 927.9h15M1169.6 901.9h15M1169.6 927.5h15M1179.0 898.5h15M1179.0 925.9h15M1188.3 878.5h15M1188.3 903.7h15M1197.6 883.8h15M1197.6 909.5h15M1206.9 866.5h15M1206.9 890.6h15M1216.2 864.3h15M1216.2 904.5h15M1225.5 860.5h15M1225.5 888.5h15M1234.9 873.9h15M1234.9 898.0h15M1244.2 861.7h15M1244.2 898.1h15M1253.5 872.9h15M1253.5 898.0h15M1262.8 870.3h15M1262.8 891.3h15M1272.1 870.1h15M1272.1 909.5h15M1281.4 869.2h15M1281.4 899.9h15M1290.8 875.3h15M1290.8 905.7h15M1300.1 890.3h15M1300.1 910.0h15M1309.4 870.8h15M1309.4 909.3h15M1318.7 881.9h15M1318.7 904.6h15M1328.0 863.8h15M1328.0 901.6h15M1337.3 844.4h15M1337.3 878.3h15M1346.7 858.8h15M1346.7 898.3h15M1356.0 870.4h15M1356.0 908.9h15M1365.3 886.6h15M1365.3 912.4h15M1374.6 886.0h15M1374.6 917.0h15M1383.9 870.1h15M1383.9 911.4h15M1393.2 879.7h15M1393.2 918.8h15" stroke-width="5"/></g>
<g stroke="#9fb3ab" fill="none" stroke-linejoin="miter" stroke-miterlimit="10"><path d="M851.1 963.7 L860.4 991.8 L869.7 998.3 L879.0 990.4 L888.3 973.4 L897.6 975.7 L907.0 965.0 L916.3 958.9 L925.6 966.5 L934.9 959.9 L944.2 961.7 L953.5 944.5 L962.9 941.8 L972.2 935.4 L981.5 912.0 L990.8 901.3 L1000.1 880.7 L1009.4 879.8 L1018.8 865.5 L1028.1 859.1 L1037.4 858.3 L1046.7 870.1 L1056.0 862.1 L1065.3 878.4 L1074.7 895.9 L1084.0 906.8 L1093.3 950.9 L1102.6 967.2 L1111.9 984.5 L1121.2 1008.9 L1130.6 994.6 L1139.9 982.6 L1149.2 977.0 L1158.5 960.7 L1167.8 957.1 L1177.1 963.0 L1186.5 957.6 L1195.8 969.3 L1205.1 952.3 L1214.4 941.9 L1223.7 929.7 L1233.0 935.2 L1242.4 934.0 L1251.7 946.0 L1261.0 954.9 L1270.3 959.5 L1279.6 963.7 L1288.9 952.7 L1298.3 955.0 L1307.6 948.8 L1316.9 955.7 L1326.2 963.9 L1335.5 956.7 L1344.8 965.5 L1354.2 999.2 L1363.5 1016.0 L1372.8 1027.2 L1382.1 1030.7 L1391.4 1058.1 L1400.7 1065.7" stroke-width="5"/><path d="M851.1 934.9V992.6M860.4 968.2V1015.4M869.7 977.3V1019.3M879.0 966.5V1014.3M888.3 946.6V1000.2M897.6 948.6V1002.7M907.0 937.4V992.6M916.3 933.1V984.7M925.6 939.2V993.9M934.9 933.7V986.2M944.2 937.6V985.9M953.5 920.6V968.4M962.9 921.0V962.7M972.2 914.4V956.4M981.5 892.7V931.3M990.8 873.3V929.3M1000.1 858.6V902.8M1009.4 854.8V904.8M1018.8 837.9V893.2M1028.1 837.6V880.6M1037.4 832.9V883.8M1046.7 840.3V899.8M1056.0 843.0V881.3M1065.3 848.6V908.1M1074.7 871.0V920.8M1084.0 884.1V929.5M1093.3 929.9V971.9M1102.6 946.2V988.3M1111.9 963.3V1005.8M1121.2 988.2V1029.7M1130.6 972.9V1016.2M1139.9 958.8V1006.5M1149.2 949.0V1004.9M1158.5 937.3V984.2M1167.8 931.1V983.1M1177.1 939.6V986.4M1186.5 932.6V982.6M1195.8 943.4V995.3M1205.1 924.1V980.5M1214.4 922.2V961.6M1223.7 908.2V951.1M1233.0 911.3V959.1M1242.4 910.9V957.1M1251.7 917.4V974.5M1261.0 934.1V975.7M1270.3 939.8V979.3M1279.6 937.2V990.3M1288.9 928.0V977.5M1298.3 935.2V974.9M1307.6 924.4V973.2M1316.9 930.1V981.4M1326.2 941.1V986.6M1335.5 934.0V979.4M1344.8 937.5V993.5M1354.2 977.4V1020.9M1363.5 994.7V1037.3M1372.8 1002.7V1051.7M1382.1 1010.5V1050.9M1391.4 1029.6V1086.5M1400.7 1044.1V1087.3" stroke-width="4.5"/><path d="M843.6 934.9h15M843.6 992.6h15M852.9 968.2h15M852.9 1015.4h15M862.2 977.3h15M862.2 1019.3h15M871.5 966.5h15M871.5 1014.3h15M880.8 946.6h15M880.8 1000.2h15M890.1 948.6h15M890.1 1002.7h15M899.5 937.4h15M899.5 992.6h15M908.8 933.1h15M908.8 984.7h15M918.1 939.2h15M918.1 993.9h15M927.4 933.7h15M927.4 986.2h15M936.7 937.6h15M936.7 985.9h15M946.0 920.6h15M946.0 968.4h15M955.4 921.0h15M955.4 962.7h15M964.7 914.4h15M964.7 956.4h15M974.0 892.7h15M974.0 931.3h15M983.3 873.3h15M983.3 929.3h15M992.6 858.6h15M992.6 902.8h15M1001.9 854.8h15M1001.9 904.8h15M1011.3 837.9h15M1011.3 893.2h15M1020.6 837.6h15M1020.6 880.6h15M1029.9 832.9h15M1029.9 883.8h15M1039.2 840.3h15M1039.2 899.8h15M1048.5 843.0h15M1048.5 881.3h15M1057.8 848.6h15M1057.8 908.1h15M1067.2 871.0h15M1067.2 920.8h15M1076.5 884.1h15M1076.5 929.5h15M1085.8 929.9h15M1085.8 971.9h15M1095.1 946.2h15M1095.1 988.3h15M1104.4 963.3h15M1104.4 1005.8h15M1113.7 988.2h15M1113.7 1029.7h15M1123.1 972.9h15M1123.1 1016.2h15M1132.4 958.8h15M1132.4 1006.5h15M1141.7 949.0h15M1141.7 1004.9h15M1151.0 937.3h15M1151.0 984.2h15M1160.3 931.1h15M1160.3 983.1h15M1169.6 939.6h15M1169.6 986.4h15M1179.0 932.6h15M1179.0 982.6h15M1188.3 943.4h15M1188.3 995.3h15M1197.6 924.1h15M1197.6 980.5h15M1206.9 922.2h15M1206.9 961.6h15M1216.2 908.2h15M1216.2 951.1h15M1225.5 911.3h15M1225.5 959.1h15M1234.9 910.9h15M1234.9 957.1h15M1244.2 917.4h15M1244.2 974.5h15M1253.5 934.1h15M1253.5 975.7h15M1262.8 939.8h15M1262.8 979.3h15M1272.1 937.2h15M1272.1 990.3h15M1281.4 928.0h15M1281.4 977.5h15M1290.8 935.2h15M1290.8 974.9h15M1300.1 924.4h15M1300.1 973.2h15M1309.4 930.1h15M1309.4 981.4h15M1318.7 941.1h15M1318.7 986.6h15M1328.0 934.0h15M1328.0 979.4h15M1337.3 937.5h15M1337.3 993.5h15M1346.7 977.4h15M1346.7 1020.9h15M1356.0 994.7h15M1356.0 1037.3h15M1365.3 1002.7h15M1365.3 1051.7h15M1374.6 1010.5h15M1374.6 1050.9h15M1383.9 1029.6h15M1383.9 1086.5h15M1393.2 1044.1h15M1393.2 1087.3h15" stroke-width="5"/></g>
<g stroke="#e6a097" fill="none" stroke-linejoin="miter" stroke-miterlimit="10"><path d="M851.1 974.3 L860.4 976.9 L869.7 965.5 L879.0 944.7 L888.3 942.2 L897.6 931.2 L907.0 941.7 L916.3 933.6 L925.6 945.2 L934.9 929.2 L944.2 920.6 L953.5 930.3 L962.9 914.0 L972.2 898.0 L981.5 891.7 L990.8 885.4 L1000.1 875.2 L1009.4 858.2 L1018.8 861.8 L1028.1 851.7 L1037.4 851.1 L1046.7 845.3 L1056.0 854.6 L1065.3 862.0 L1074.7 876.2 L1084.0 900.7 L1093.3 926.2 L1102.6 930.7 L1111.9 958.4 L1121.2 971.0 L1130.6 964.0 L1139.9 970.2 L1149.2 955.4 L1158.5 960.2 L1167.8 942.0 L1177.1 942.9 L1186.5 944.9 L1195.8 933.7 L1205.1 931.6 L1214.4 923.5 L1223.7 928.0 L1233.0 918.6 L1242.4 923.8 L1251.7 922.0 L1261.0 911.6 L1270.3 914.0 L1279.6 901.5 L1288.9 912.4 L1298.3 919.4 L1307.6 910.5 L1316.9 924.4 L1326.2 921.9 L1335.5 931.0 L1344.8 924.4 L1354.2 942.1 L1363.5 940.6 L1372.8 948.1 L1382.1 964.8 L1391.4 957.4 L1400.7 961.3" stroke-width="5"/><path d="M851.1 953.4V995.2M860.4 950.5V1003.2M869.7 944.9V986.0M879.0 917.3V972.1M888.3 912.3V972.0M897.6 901.7V960.8M907.0 919.4V963.9M916.3 906.2V960.9M925.6 922.7V967.7M934.9 906.2V952.1M944.2 898.2V943.0M953.5 910.4V950.3M962.9 885.9V942.0M972.2 876.2V919.8M981.5 871.8V911.6M990.8 864.9V905.8M1000.1 845.4V904.9M1009.4 828.2V888.2M1018.8 840.2V883.4M1028.1 825.6V877.7M1037.4 823.4V878.9M1046.7 817.1V873.4M1056.0 829.3V879.8M1065.3 840.3V883.6M1074.7 852.3V900.1M1084.0 873.3V928.1M1093.3 899.4V953.0M1102.6 905.4V956.0M1111.9 937.1V979.7M1121.2 948.4V993.7M1130.6 938.0V990.0M1139.9 945.3V995.1M1149.2 929.5V981.3M1158.5 937.1V983.3M1167.8 915.1V969.0M1177.1 918.9V966.9M1186.5 916.6V973.2M1195.8 912.5V954.9M1205.1 912.2V951.0M1214.4 894.2V952.8M1223.7 908.6V947.4M1233.0 898.6V938.6M1242.4 899.3V948.3M1251.7 897.6V946.4M1261.0 885.4V937.7M1270.3 890.6V937.5M1279.6 873.4V929.7M1288.9 891.8V933.0M1298.3 897.4V941.4M1307.6 884.7V936.3M1316.9 897.2V951.6M1326.2 900.4V943.4M1335.5 909.8V952.3M1344.8 900.2V948.6M1354.2 915.5V968.6M1363.5 919.8V961.4M1372.8 926.7V969.5M1382.1 938.4V991.3M1391.4 934.8V979.9M1400.7 936.3V986.3" stroke-width="4.5"/><path d="M843.6 953.4h15M843.6 995.2h15M852.9 950.5h15M852.9 1003.2h15M862.2 944.9h15M862.2 986.0h15M871.5 917.3h15M871.5 972.1h15M880.8 912.3h15M880.8 972.0h15M890.1 901.7h15M890.1 960.8h15M899.5 919.4h15M899.5 963.9h15M908.8 906.2h15M908.8 960.9h15M918.1 922.7h15M918.1 967.7h15M927.4 906.2h15M927.4 952.1h15M936.7 898.2h15M936.7 943.0h15M946.0 910.4h15M946.0 950.3h15M955.4 885.9h15M955.4 942.0h15M964.7 876.2h15M964.7 919.8h15M974.0 871.8h15M974.0 911.6h15M983.3 864.9h15M983.3 905.8h15M992.6 845.4h15M992.6 904.9h15M1001.9 828.2h15M1001.9 888.2h15M1011.3 840.2h15M1011.3 883.4h15M1020.6 825.6h15M1020.6 877.7h15M1029.9 823.4h15M1029.9 878.9h15M1039.2 817.1h15M1039.2 873.4h15M1048.5 829.3h15M1048.5 879.8h15M1057.8 840.3h15M1057.8 883.6h15M1067.2 852.3h15M1067.2 900.1h15M1076.5 873.3h15M1076.5 928.1h15M1085.8 899.4h15M1085.8 953.0h15M1095.1 905.4h15M1095.1 956.0h15M1104.4 937.1h15M1104.4 979.7h15M1113.7 948.4h15M1113.7 993.7h15M1123.1 938.0h15M1123.1 990.0h15M1132.4 945.3h15M1132.4 995.1h15M1141.7 929.5h15M1141.7 981.3h15M1151.0 937.1h15M1151.0 983.3h15M1160.3 915.1h15M1160.3 969.0h15M1169.6 918.9h15M1169.6 966.9h15M1179.0 916.6h15M1179.0 973.2h15M1188.3 912.5h15M1188.3 954.9h15M1197.6 912.2h15M1197.6 951.0h15M1206.9 894.2h15M1206.9 952.8h15M1216.2 908.6h15M1216.2 947.4h15M1225.5 898.6h15M1225.5 938.6h15M1234.9 899.3h15M1234.9 948.3h15M1244.2 897.6h15M1244.2 946.4h15M1253.5 885.4h15M1253.5 937.7h15M1262.8 890.6h15M1262.8 937.5h15M1272.1 873.4h15M1272.1 929.7h15M1281.4 891.8h15M1281.4 933.0h15M1290.8 897.4h15M1290.8 941.4h15M1300.1 884.7h15M1300.1 936.3h15M1309.4 897.2h15M1309.4 951.6h15M1318.7 900.4h15M1318.7 943.4h15M1328.0 909.8h15M1328.0 952.3h15M1337.3 900.2h15M1337.3 948.6h15M1346.7 915.5h15M1346.7 968.6h15M1356.0 919.8h15M1356.0 961.4h15M1365.3 926.7h15M1365.3 969.5h15M1374.6 938.4h15M1374.6 991.3h15M1383.9 934.8h15M1383.9 979.9h15M1393.2 936.3h15M1393.2 986.3h15" stroke-width="5"/></g>
<g stroke="#ab0c29" fill="none"><path d="M1192.6 121.8H1266.2" stroke-width="4.6"/><path d="M1229.7 111.2V133.0" stroke-width="4"/><path d="M1222.7 111.2h14M1222.7 133.0h14" stroke-width="4"/></g>
<text x="1272.7" y="130.0" class="lg">Monkey V</text>
<g stroke="#14244e" fill="none"><path d="M1192.6 149.7H1266.2" stroke-width="4.6"/><path d="M1229.7 139.1V160.9" stroke-width="4"/><path d="M1222.7 139.1h14M1222.7 160.9h14" stroke-width="4"/></g>
<text x="1272.7" y="159.4" class="lg">Monkey W</text>
<g stroke="#2f5e4c" fill="none"><path d="M1128.2 1208.5H1201.9" stroke-width="4.6"/><path d="M1165.1 1197.7V1219.3" stroke-width="4"/><path d="M1157.7 1197.7h14.8M1157.7 1219.3h14.8" stroke-width="4"/></g>
<text x="1208.3" y="1216.0" class="lb">reject, certain</text>
<g stroke="#c44a37" fill="none"><path d="M1128.2 1237.5H1201.9" stroke-width="4.6"/><path d="M1165.1 1226.7V1248.3" stroke-width="4"/><path d="M1157.7 1226.7h14.8M1157.7 1248.3h14.8" stroke-width="4"/></g>
<text x="1208.3" y="1245.0" class="lb">accept certain</text>
<g stroke="#9fb3ab" fill="none"><path d="M1128.2 1266.5H1201.9" stroke-width="4.6"/><path d="M1165.1 1255.7V1277.3" stroke-width="4"/><path d="M1157.7 1255.7h14.8M1157.7 1277.3h14.8" stroke-width="4"/></g>
<text x="1208.3" y="1274.0" class="lb">reject, uncertain</text>
<g stroke="#e6a097" fill="none"><path d="M1128.2 1295.5H1201.9" stroke-width="4.6"/><path d="M1165.1 1284.7V1306.3" stroke-width="4"/><path d="M1157.7 1284.7h14.8M1157.7 1306.3h14.8" stroke-width="4"/></g>
<text x="1208.3" y="1303.0" class="lb">accept, uncertain</text>
<g class="st" text-anchor="middle"><text x="1069.9" y="649.6">*</text><text x="1079.2" y="649.6">*</text><text x="1097.9" y="649.6">*</text><text x="1107.2" y="649.6">*</text><text x="1116.5" y="649.6">*</text><text x="1125.8" y="649.6">*</text><text x="1135.1" y="649.6">*</text><text x="1144.4" y="649.6">*</text><text x="1153.8" y="649.6">*</text><text x="1163.1" y="649.6">*</text><text x="1181.7" y="649.6">*</text><text x="1191.0" y="649.6">*</text><text x="1200.3" y="649.6">*</text><text x="1219.0" y="649.6">*</text><text x="1237.6" y="649.6">*</text><text x="1256.2" y="649.6">*</text><text x="1265.6" y="649.6">*</text><text x="1274.9" y="649.6">*</text><text x="1293.5" y="649.6">*</text><text x="1321.5" y="649.6">*</text><text x="1340.1" y="649.6">*</text><text x="1069.9" y="638.4">*</text><text x="1097.9" y="638.4">*</text><text x="1116.5" y="638.4">*</text><text x="1125.8" y="638.4">*</text><text x="1135.1" y="638.4">*</text><text x="1144.4" y="638.4">*</text><text x="1153.8" y="638.4">*</text><text x="1163.1" y="638.4">*</text><text x="1191.0" y="638.4">*</text><text x="1200.3" y="638.4">*</text><text x="1219.0" y="638.4">*</text><text x="1237.6" y="638.4">*</text><text x="1256.2" y="638.4">*</text><text x="1265.6" y="638.4">*</text><text x="1116.5" y="627.2">*</text><text x="1125.8" y="627.2">*</text><text x="1135.1" y="627.2">*</text><text x="1144.4" y="627.2">*</text><text x="1191.0" y="627.2">*</text><text x="1200.3" y="627.2">*</text><text x="1219.0" y="627.2">*</text><text x="1256.2" y="627.2">*</text></g>
<g class="st" text-anchor="middle"><text x="1069.9" y="822.6">*</text><text x="1079.2" y="822.6">*</text><text x="1097.9" y="822.6">*</text><text x="1107.2" y="822.6">*</text><text x="1116.5" y="822.6">*</text><text x="1125.8" y="822.6">*</text><text x="1135.1" y="822.6">*</text><text x="1144.4" y="822.6">*</text><text x="1153.8" y="822.6">*</text><text x="1163.1" y="822.6">*</text><text x="1181.7" y="822.6">*</text><text x="1191.0" y="822.6">*</text><text x="1200.3" y="822.6">*</text><text x="1219.0" y="822.6">*</text><text x="1237.6" y="822.6">*</text><text x="1246.9" y="822.6">*</text><text x="1256.2" y="822.6">*</text><text x="1265.6" y="822.6">*</text><text x="1274.9" y="822.6">*</text><text x="1293.5" y="822.6">*</text><text x="1312.1" y="822.6">*</text><text x="1321.5" y="822.6">*</text><text x="1340.1" y="822.6">*</text><text x="1349.4" y="822.6">*</text><text x="1358.7" y="822.6">*</text><text x="1069.9" y="811.3">*</text><text x="1097.9" y="811.3">*</text><text x="1116.5" y="811.3">*</text><text x="1125.8" y="811.3">*</text><text x="1135.1" y="811.3">*</text><text x="1144.4" y="811.3">*</text><text x="1153.8" y="811.3">*</text><text x="1181.7" y="811.3">*</text><text x="1191.0" y="811.3">*</text><text x="1200.3" y="811.3">*</text><text x="1219.0" y="811.3">*</text><text x="1256.2" y="811.3">*</text><text x="1265.6" y="811.3">*</text><text x="1293.5" y="811.3">*</text><text x="1340.1" y="811.3">*</text><text x="1349.4" y="811.3">*</text><text x="1358.7" y="811.3">*</text><text x="1116.5" y="800.0">*</text><text x="1125.8" y="800.0">*</text><text x="1135.1" y="800.0">*</text><text x="1200.3" y="800.0">*</text><text x="1340.1" y="800.0">*</text><text x="1349.4" y="800.0">*</text></g>
<text x="1852.7" y="67.8" text-anchor="middle" class="ttl">Mixture</text>
<text x="1463.0" y="36.8" class="pl">C</text>
<text x="1465.0" y="763.8" class="pl">F</text>
<path d="M1573.2 84.0 V650.5 M1566.2 644.0 H2132.2" stroke="#444" stroke-width="1.7" fill="none"/>
<path d="M1566.2 84.0 H1573.2 M1566.2 154.0 H1573.2 M1566.2 224.0 H1573.2 M1566.2 294.0 H1573.2 M1566.2 364.0 H1573.2 M1566.2 434.0 H1573.2 M1566.2 504.0 H1573.2 M1566.2 574.0 H1573.2 M1566.2 644.0 H1573.2 M1759.5 644.0 V650.5 M1945.9 644.0 V650.5 M2132.2 644.0 V650.5" stroke="#444" stroke-width="1.7" fill="none"/>
<text x="1557.2" y="96.4" text-anchor="end" class="tl">0.6</text>
<text x="1557.2" y="166.4" text-anchor="end" class="tl">0.4</text>
<text x="1557.2" y="236.4" text-anchor="end" class="tl">0.2</text>
<text x="1557.2" y="306.4" text-anchor="end" class="tl">0</text>
<text x="1557.2" y="376.4" text-anchor="end" class="tl">-0.2</text>
<text x="1557.2" y="446.4" text-anchor="end" class="tl">-0.4</text>
<text x="1557.2" y="516.4" text-anchor="end" class="tl">-0.6</text>
<text x="1557.2" y="586.4" text-anchor="end" class="tl">-0.8</text>
<text x="1557.2" y="656.4" text-anchor="end" class="tl">-1</text>
<text x="1573.2" y="692.0" text-anchor="middle" class="tl">-1000</text>
<text x="1759.5" y="692.0" text-anchor="middle" class="tl">Cue On</text>
<text x="1945.9" y="692.0" text-anchor="middle" class="tl">1000</text>
<text x="2132.2" y="692.0" text-anchor="middle" class="tl">2000</text>
<line x1="1759.5" y1="84.0" x2="1759.5" y2="644.0" stroke="#111" stroke-width="3" stroke-dasharray="9 9.9" stroke-dashoffset="-16.8"/>
<text x="1854.7" y="740.0" text-anchor="middle" class="xl">Time (ms)</text>
<text transform="translate(1488.0 364.0) rotate(-90)" text-anchor="middle" class="yl">Retraction coef vs entropy</text>
<path d="M1573.2 775.3 V1340.5 M1566.2 1334.0 H2132.2" stroke="#444" stroke-width="1.7" fill="none"/>
<path d="M1566.2 775.3 H1573.2 M1566.2 845.1 H1573.2 M1566.2 915.0 H1573.2 M1566.2 984.8 H1573.2 M1566.2 1054.7 H1573.2 M1566.2 1124.5 H1573.2 M1566.2 1194.3 H1573.2 M1566.2 1264.2 H1573.2 M1566.2 1334.0 H1573.2 M1759.5 1334.0 V1340.5 M1945.9 1334.0 V1340.5 M2132.2 1334.0 V1340.5" stroke="#444" stroke-width="1.7" fill="none"/>
<text x="1557.2" y="787.7" text-anchor="end" class="tl">1</text>
<text x="1557.2" y="857.5" text-anchor="end" class="tl">0.9</text>
<text x="1557.2" y="927.4" text-anchor="end" class="tl">0.8</text>
<text x="1557.2" y="997.2" text-anchor="end" class="tl">0.7</text>
<text x="1557.2" y="1067.1" text-anchor="end" class="tl">0.6</text>
<text x="1557.2" y="1136.9" text-anchor="end" class="tl">0.5</text>
<text x="1557.2" y="1206.7" text-anchor="end" class="tl">0.4</text>
<text x="1557.2" y="1276.6" text-anchor="end" class="tl">0.3</text>
<text x="1557.2" y="1346.4" text-anchor="end" class="tl">0.2</text>
<text x="1573.2" y="1382.0" text-anchor="middle" class="tl">-1000</text>
<text x="1759.5" y="1382.0" text-anchor="middle" class="tl">Cue On</text>
<text x="1945.9" y="1382.0" text-anchor="middle" class="tl">1000</text>
<text x="2132.2" y="1382.0" text-anchor="middle" class="tl">2000</text>
<line x1="1759.5" y1="775.3" x2="1759.5" y2="1334.0" stroke="#111" stroke-width="3" stroke-dasharray="9 9.9" stroke-dashoffset="-16.8"/>
<text x="1854.7" y="1430.0" text-anchor="middle" class="xl">Time (ms)</text>
<text transform="translate(1499.4 1054.7) rotate(-90)" text-anchor="middle" class="yl">Retraction coefficient</text>
<g stroke="#ab0c29" fill="none" stroke-linejoin="miter" stroke-miterlimit="10"><path d="M1577.9 278.7 L1587.2 266.5 L1596.5 248.2 L1605.8 242.1 L1615.1 327.5 L1624.4 272.6 L1633.8 251.2 L1643.1 236.0 L1652.4 266.5 L1661.7 315.3 L1671.0 284.8 L1680.3 287.9 L1689.7 266.5 L1699.0 242.1 L1708.3 257.3 L1717.6 272.6 L1726.9 251.2 L1736.2 303.1 L1745.6 236.0 L1754.9 303.1 L1764.2 248.2 L1773.5 236.0 L1782.8 272.6 L1792.1 251.2 L1801.5 287.9 L1810.8 333.6 L1820.1 315.3 L1829.4 379.4 L1838.7 409.9 L1848.0 440.4 L1857.4 373.3 L1866.7 394.7 L1876.0 379.4 L1885.3 409.9 L1894.6 440.4 L1903.9 333.6 L1913.3 379.4 L1922.6 440.4 L1931.9 348.9 L1941.2 413.0 L1950.5 394.7 L1959.8 318.4 L1969.2 348.9 L1978.5 409.9 L1987.8 385.5 L1997.1 348.9 L2006.4 370.2 L2015.7 263.4 L2025.1 303.1 L2034.4 379.4 L2043.7 409.9 L2053.0 333.6 L2062.3 348.9 L2071.6 309.2 L2081.0 303.1 L2090.3 281.7 L2099.6 272.6 L2108.9 260.4 L2118.2 248.2 L2127.5 248.2" stroke-width="5"/><path d="M1577.9 203.9V353.5M1587.2 202.4V330.6M1596.5 205.5V290.9M1605.8 185.6V298.5M1615.1 268.0V387.0M1624.4 217.7V327.5M1633.8 220.7V281.7M1643.1 190.2V281.7M1652.4 225.3V307.7M1661.7 257.3V373.3M1671.0 245.1V324.5M1680.3 248.2V327.5M1689.7 229.9V303.1M1699.0 193.3V290.9M1708.3 211.6V303.1M1717.6 226.8V318.4M1726.9 211.6V290.9M1736.2 231.4V374.8M1745.6 178.0V294.0M1754.9 257.3V348.9M1764.2 202.4V294.0M1773.5 188.7V283.3M1782.8 226.8V318.4M1792.1 199.4V303.1M1801.5 225.3V350.4M1810.8 287.9V379.4M1820.1 269.5V361.1M1829.4 333.6V425.2M1838.7 364.1V455.7M1848.0 339.7V541.1M1857.4 319.9V426.7M1866.7 348.9V440.4M1876.0 347.4V411.4M1885.3 364.1V455.7M1894.6 385.5V495.4M1903.9 298.5V368.7M1913.3 327.5V431.3M1922.6 387.0V493.8M1931.9 312.3V385.5M1941.2 350.4V475.5M1950.5 348.9V440.4M1959.8 252.8V384.0M1969.2 303.1V394.7M1978.5 364.1V455.7M1987.8 321.4V449.6M1997.1 318.4V379.4M2006.4 324.5V416.0M2015.7 210.0V316.8M2025.1 257.3V348.9M2034.4 324.5V434.3M2043.7 364.1V455.7M2053.0 266.5V400.8M2062.3 303.1V394.7M2071.6 257.3V361.1M2081.0 248.2V358.0M2090.3 239.0V324.5M2099.6 222.2V322.9M2108.9 216.1V304.6M2118.2 208.5V287.9M2127.5 210.0V286.3" stroke-width="4.5"/><path d="M1570.4 203.9h15M1570.4 353.5h15M1579.7 202.4h15M1579.7 330.6h15M1589.0 205.5h15M1589.0 290.9h15M1598.3 185.6h15M1598.3 298.5h15M1607.6 268.0h15M1607.6 387.0h15M1616.9 217.7h15M1616.9 327.5h15M1626.3 220.7h15M1626.3 281.7h15M1635.6 190.2h15M1635.6 281.7h15M1644.9 225.3h15M1644.9 307.7h15M1654.2 257.3h15M1654.2 373.3h15M1663.5 245.1h15M1663.5 324.5h15M1672.8 248.2h15M1672.8 327.5h15M1682.2 229.9h15M1682.2 303.1h15M1691.5 193.3h15M1691.5 290.9h15M1700.8 211.6h15M1700.8 303.1h15M1710.1 226.8h15M1710.1 318.4h15M1719.4 211.6h15M1719.4 290.9h15M1728.7 231.4h15M1728.7 374.8h15M1738.1 178.0h15M1738.1 294.0h15M1747.4 257.3h15M1747.4 348.9h15M1756.7 202.4h15M1756.7 294.0h15M1766.0 188.7h15M1766.0 283.3h15M1775.3 226.8h15M1775.3 318.4h15M1784.6 199.4h15M1784.6 303.1h15M1794.0 225.3h15M1794.0 350.4h15M1803.3 287.9h15M1803.3 379.4h15M1812.6 269.5h15M1812.6 361.1h15M1821.9 333.6h15M1821.9 425.2h15M1831.2 364.1h15M1831.2 455.7h15M1840.5 339.7h15M1840.5 541.1h15M1849.9 319.9h15M1849.9 426.7h15M1859.2 348.9h15M1859.2 440.4h15M1868.5 347.4h15M1868.5 411.4h15M1877.8 364.1h15M1877.8 455.7h15M1887.1 385.5h15M1887.1 495.4h15M1896.4 298.5h15M1896.4 368.7h15M1905.8 327.5h15M1905.8 431.3h15M1915.1 387.0h15M1915.1 493.8h15M1924.4 312.3h15M1924.4 385.5h15M1933.7 350.4h15M1933.7 475.5h15M1943.0 348.9h15M1943.0 440.4h15M1952.3 252.8h15M1952.3 384.0h15M1961.7 303.1h15M1961.7 394.7h15M1971.0 364.1h15M1971.0 455.7h15M1980.3 321.4h15M1980.3 449.6h15M1989.6 318.4h15M1989.6 379.4h15M1998.9 324.5h15M1998.9 416.0h15M2008.2 210.0h15M2008.2 316.8h15M2017.6 257.3h15M2017.6 348.9h15M2026.9 324.5h15M2026.9 434.3h15M2036.2 364.1h15M2036.2 455.7h15M2045.5 266.5h15M2045.5 400.8h15M2054.8 303.1h15M2054.8 394.7h15M2064.1 257.3h15M2064.1 361.1h15M2073.5 248.2h15M2073.5 358.0h15M2082.8 239.0h15M2082.8 324.5h15M2092.1 222.2h15M2092.1 322.9h15M2101.4 216.1h15M2101.4 304.6h15M2110.7 208.5h15M2110.7 287.9h15M2120.0 210.0h15M2120.0 286.3h15" stroke-width="5"/></g>
<g stroke="#14244e" fill="none" stroke-linejoin="miter" stroke-miterlimit="10"><path d="M1577.9 239.0 L1587.2 272.6 L1596.5 327.5 L1605.8 257.3 L1615.1 315.3 L1624.4 257.3 L1633.8 248.2 L1643.1 196.3 L1652.4 278.7 L1661.7 339.7 L1671.0 333.6 L1680.3 327.5 L1689.7 248.2 L1699.0 248.2 L1708.3 348.9 L1717.6 333.6 L1726.9 318.4 L1736.2 266.5 L1745.6 333.6 L1754.9 364.1 L1764.2 290.9 L1773.5 248.2 L1782.8 351.9 L1792.1 263.4 L1801.5 290.9 L1810.8 394.7 L1820.1 379.4 L1829.4 409.9 L1838.7 455.7 L1848.0 486.2 L1857.4 501.5 L1866.7 455.7 L1876.0 455.7 L1885.3 425.2 L1894.6 394.7 L1903.9 394.7 L1913.3 379.4 L1922.6 431.3 L1931.9 333.6 L1941.2 394.7 L1950.5 425.2 L1959.8 379.4 L1969.2 358.0 L1978.5 388.6 L1987.8 440.4 L1997.1 394.7 L2006.4 358.0 L2015.7 409.9 L2025.1 440.4 L2034.4 455.7 L2043.7 409.9 L2053.0 388.6 L2062.3 379.4 L2071.6 409.9 L2081.0 364.1 L2090.3 312.3 L2099.6 303.1 L2108.9 272.6 L2118.2 309.2 L2127.5 297.0" stroke-width="5"/><path d="M1577.9 193.3V284.8M1587.2 196.3V348.9M1596.5 249.7V405.3M1605.8 220.7V294.0M1615.1 255.8V374.8M1624.4 220.7V294.0M1633.8 202.4V294.0M1643.1 135.3V257.3M1652.4 232.9V324.5M1661.7 258.9V420.6M1671.0 287.9V379.4M1680.3 265.0V390.1M1689.7 190.2V306.2M1699.0 211.6V284.8M1708.3 297.0V400.8M1717.6 274.1V393.1M1726.9 258.9V377.9M1736.2 217.7V315.3M1745.6 281.7V385.5M1754.9 312.3V416.0M1764.2 245.1V336.7M1773.5 211.6V284.8M1782.8 307.7V396.2M1792.1 226.8V300.1M1801.5 245.1V336.7M1810.8 338.2V451.1M1820.1 348.9V409.9M1829.4 356.5V463.3M1838.7 405.3V506.0M1848.0 429.7V542.7M1857.4 458.7V544.2M1866.7 425.2V486.2M1876.0 425.2V486.2M1885.3 379.4V470.9M1894.6 364.1V425.2M1903.9 348.9V440.4M1913.3 330.6V428.2M1922.6 385.5V477.0M1931.9 283.3V384.0M1941.2 348.9V440.4M1950.5 393.1V457.2M1959.8 336.7V422.1M1969.2 327.5V388.6M1978.5 342.8V434.3M1987.8 406.9V474.0M1997.1 348.9V440.4M2006.4 321.4V394.7M2015.7 355.0V464.8M2025.1 394.7V486.2M2034.4 419.1V492.3M2043.7 364.1V455.7M2053.0 342.8V434.3M2062.3 345.8V413.0M2071.6 345.8V474.0M2081.0 318.4V409.9M2090.3 266.5V358.0M2099.6 257.3V348.9M2108.9 232.9V312.3M2118.2 263.4V355.0M2127.5 251.2V342.8" stroke-width="4.5"/><path d="M1570.4 193.3h15M1570.4 284.8h15M1579.7 196.3h15M1579.7 348.9h15M1589.0 249.7h15M1589.0 405.3h15M1598.3 220.7h15M1598.3 294.0h15M1607.6 255.8h15M1607.6 374.8h15M1616.9 220.7h15M1616.9 294.0h15M1626.3 202.4h15M1626.3 294.0h15M1635.6 135.3h15M1635.6 257.3h15M1644.9 232.9h15M1644.9 324.5h15M1654.2 258.9h15M1654.2 420.6h15M1663.5 287.9h15M1663.5 379.4h15M1672.8 265.0h15M1672.8 390.1h15M1682.2 190.2h15M1682.2 306.2h15M1691.5 211.6h15M1691.5 284.8h15M1700.8 297.0h15M1700.8 400.8h15M1710.1 274.1h15M1710.1 393.1h15M1719.4 258.9h15M1719.4 377.9h15M1728.7 217.7h15M1728.7 315.3h15M1738.1 281.7h15M1738.1 385.5h15M1747.4 312.3h15M1747.4 416.0h15M1756.7 245.1h15M1756.7 336.7h15M1766.0 211.6h15M1766.0 284.8h15M1775.3 307.7h15M1775.3 396.2h15M1784.6 226.8h15M1784.6 300.1h15M1794.0 245.1h15M1794.0 336.7h15M1803.3 338.2h15M1803.3 451.1h15M1812.6 348.9h15M1812.6 409.9h15M1821.9 356.5h15M1821.9 463.3h15M1831.2 405.3h15M1831.2 506.0h15M1840.5 429.7h15M1840.5 542.7h15M1849.9 458.7h15M1849.9 544.2h15M1859.2 425.2h15M1859.2 486.2h15M1868.5 425.2h15M1868.5 486.2h15M1877.8 379.4h15M1877.8 470.9h15M1887.1 364.1h15M1887.1 425.2h15M1896.4 348.9h15M1896.4 440.4h15M1905.8 330.6h15M1905.8 428.2h15M1915.1 385.5h15M1915.1 477.0h15M1924.4 283.3h15M1924.4 384.0h15M1933.7 348.9h15M1933.7 440.4h15M1943.0 393.1h15M1943.0 457.2h15M1952.3 336.7h15M1952.3 422.1h15M1961.7 327.5h15M1961.7 388.6h15M1971.0 342.8h15M1971.0 434.3h15M1980.3 406.9h15M1980.3 474.0h15M1989.6 348.9h15M1989.6 440.4h15M1998.9 321.4h15M1998.9 394.7h15M2008.2 355.0h15M2008.2 464.8h15M2017.6 394.7h15M2017.6 486.2h15M2026.9 419.1h15M2026.9 492.3h15M2036.2 364.1h15M2036.2 455.7h15M2045.5 342.8h15M2045.5 434.3h15M2054.8 345.8h15M2054.8 413.0h15M2064.1 345.8h15M2064.1 474.0h15M2073.5 318.4h15M2073.5 409.9h15M2082.8 266.5h15M2082.8 358.0h15M2092.1 257.3h15M2092.1 348.9h15M2101.4 232.9h15M2101.4 312.3h15M2110.7 263.4h15M2110.7 355.0h15M2120.0 251.2h15M2120.0 342.8h15" stroke-width="5"/></g>
<g stroke="#2f5e4c" fill="none" stroke-linejoin="miter" stroke-miterlimit="10"><path d="M1577.9 892.8 L1587.2 902.8 L1596.5 903.0 L1605.8 893.2 L1615.1 896.5 L1624.4 886.3 L1633.8 901.4 L1643.1 891.2 L1652.4 898.9 L1661.7 893.2 L1671.0 894.7 L1680.3 880.6 L1689.7 877.4 L1699.0 871.6 L1708.3 870.2 L1717.6 854.6 L1726.9 847.9 L1736.2 838.9 L1745.6 855.4 L1754.9 861.8 L1764.2 864.3 L1773.5 841.9 L1782.8 827.8 L1792.1 836.3 L1801.5 839.1 L1810.8 845.7 L1820.1 869.0 L1829.4 866.0 L1838.7 873.1 L1848.0 871.7 L1857.4 861.8 L1866.7 872.8 L1876.0 888.0 L1885.3 882.4 L1894.6 899.6 L1903.9 886.4 L1913.3 884.1 L1922.6 871.2 L1931.9 864.3 L1941.2 872.7 L1950.5 874.4 L1959.8 882.0 L1969.2 884.6 L1978.5 867.4 L1987.8 878.7 L1997.1 871.8 L2006.4 876.3 L2015.7 872.4 L2025.1 865.6 L2034.4 864.2 L2043.7 874.6 L2053.0 881.7 L2062.3 896.0 L2071.6 939.2 L2081.0 970.6 L2090.3 1020.1 L2099.6 1054.4 L2108.9 1082.9 L2118.2 1091.8 L2127.5 1135.8" stroke-width="5"/><path d="M1577.9 878.7V907.0M1587.2 891.8V913.9M1596.5 891.5V914.4M1605.8 881.9V904.5M1615.1 882.1V910.9M1624.4 876.3V896.3M1633.8 889.4V913.4M1643.1 870.7V911.6M1652.4 882.6V915.2M1661.7 874.1V912.4M1671.0 875.6V913.8M1680.3 862.6V898.6M1689.7 865.2V889.6M1699.0 859.7V883.5M1708.3 860.0V880.4M1717.6 840.4V868.8M1726.9 827.4V868.4M1736.2 820.3V857.5M1745.6 838.6V872.1M1754.9 851.0V872.7M1764.2 847.8V880.8M1773.5 827.6V856.1M1782.8 806.9V848.6M1792.1 817.5V855.0M1801.5 823.0V855.1M1810.8 825.0V866.5M1820.1 855.5V882.5M1829.4 850.9V881.1M1838.7 860.2V886.0M1848.0 854.8V888.6M1857.4 850.5V873.2M1866.7 852.1V893.4M1876.0 869.7V906.4M1885.3 872.5V892.3M1894.6 887.9V911.4M1903.9 867.0V905.8M1913.3 872.0V896.2M1922.6 858.1V884.3M1931.9 846.7V881.8M1941.2 858.4V886.9M1950.5 859.5V889.4M1959.8 870.7V893.2M1969.2 866.5V902.7M1978.5 851.1V883.7M1987.8 867.6V889.8M1997.1 857.8V885.8M2006.4 858.6V894.0M2015.7 853.9V890.9M2025.1 855.5V875.8M2034.4 851.5V876.8M2043.7 860.7V888.4M2053.0 867.6V895.8M2062.3 882.3V909.6M2071.6 920.9V957.6M2081.0 953.8V987.3M2090.3 999.9V1040.3M2099.6 1044.3V1064.6M2108.9 1067.8V1098.0M2118.2 1077.7V1105.8M2127.5 1115.8V1155.8" stroke-width="4.5"/><path d="M1570.4 878.7h15M1570.4 907.0h15M1579.7 891.8h15M1579.7 913.9h15M1589.0 891.5h15M1589.0 914.4h15M1598.3 881.9h15M1598.3 904.5h15M1607.6 882.1h15M1607.6 910.9h15M1616.9 876.3h15M1616.9 896.3h15M1626.3 889.4h15M1626.3 913.4h15M1635.6 870.7h15M1635.6 911.6h15M1644.9 882.6h15M1644.9 915.2h15M1654.2 874.1h15M1654.2 912.4h15M1663.5 875.6h15M1663.5 913.8h15M1672.8 862.6h15M1672.8 898.6h15M1682.2 865.2h15M1682.2 889.6h15M1691.5 859.7h15M1691.5 883.5h15M1700.8 860.0h15M1700.8 880.4h15M1710.1 840.4h15M1710.1 868.8h15M1719.4 827.4h15M1719.4 868.4h15M1728.7 820.3h15M1728.7 857.5h15M1738.1 838.6h15M1738.1 872.1h15M1747.4 851.0h15M1747.4 872.7h15M1756.7 847.8h15M1756.7 880.8h15M1766.0 827.6h15M1766.0 856.1h15M1775.3 806.9h15M1775.3 848.6h15M1784.6 817.5h15M1784.6 855.0h15M1794.0 823.0h15M1794.0 855.1h15M1803.3 825.0h15M1803.3 866.5h15M1812.6 855.5h15M1812.6 882.5h15M1821.9 850.9h15M1821.9 881.1h15M1831.2 860.2h15M1831.2 886.0h15M1840.5 854.8h15M1840.5 888.6h15M1849.9 850.5h15M1849.9 873.2h15M1859.2 852.1h15M1859.2 893.4h15M1868.5 869.7h15M1868.5 906.4h15M1877.8 872.5h15M1877.8 892.3h15M1887.1 887.9h15M1887.1 911.4h15M1896.4 867.0h15M1896.4 905.8h15M1905.8 872.0h15M1905.8 896.2h15M1915.1 858.1h15M1915.1 884.3h15M1924.4 846.7h15M1924.4 881.8h15M1933.7 858.4h15M1933.7 886.9h15M1943.0 859.5h15M1943.0 889.4h15M1952.3 870.7h15M1952.3 893.2h15M1961.7 866.5h15M1961.7 902.7h15M1971.0 851.1h15M1971.0 883.7h15M1980.3 867.6h15M1980.3 889.8h15M1989.6 857.8h15M1989.6 885.8h15M1998.9 858.6h15M1998.9 894.0h15M2008.2 853.9h15M2008.2 890.9h15M2017.6 855.5h15M2017.6 875.8h15M2026.9 851.5h15M2026.9 876.8h15M2036.2 860.7h15M2036.2 888.4h15M2045.5 867.6h15M2045.5 895.8h15M2054.8 882.3h15M2054.8 909.6h15M2064.1 920.9h15M2064.1 957.6h15M2073.5 953.8h15M2073.5 987.3h15M2082.8 999.9h15M2082.8 1040.3h15M2092.1 1044.3h15M2092.1 1064.6h15M2101.4 1067.8h15M2101.4 1098.0h15M2110.7 1077.7h15M2110.7 1105.8h15M2120.0 1115.8h15M2120.0 1155.8h15" stroke-width="5"/></g>
<g stroke="#c44a37" fill="none" stroke-linejoin="miter" stroke-miterlimit="10"><path d="M1577.9 900.9 L1587.2 914.7 L1596.5 901.3 L1605.8 907.6 L1615.1 910.2 L1624.4 901.7 L1633.8 902.2 L1643.1 913.0 L1652.4 900.0 L1661.7 916.0 L1671.0 903.8 L1680.3 909.9 L1689.7 893.5 L1699.0 895.1 L1708.3 877.2 L1717.6 874.3 L1726.9 856.0 L1736.2 845.2 L1745.6 847.9 L1754.9 843.2 L1764.2 853.4 L1773.5 830.6 L1782.8 828.6 L1792.1 845.3 L1801.5 855.4 L1810.8 869.4 L1820.1 879.0 L1829.4 875.2 L1838.7 889.0 L1848.0 897.1 L1857.4 893.3 L1866.7 903.1 L1876.0 899.2 L1885.3 910.9 L1894.6 904.7 L1903.9 915.8 L1913.3 907.6 L1922.6 892.8 L1931.9 902.2 L1941.2 891.2 L1950.5 900.1 L1959.8 890.3 L1969.2 898.5 L1978.5 888.7 L1987.8 889.5 L1997.1 873.6 L2006.4 883.6 L2015.7 870.6 L2025.1 875.0 L2034.4 876.3 L2043.7 876.4 L2053.0 887.0 L2062.3 881.5 L2071.6 883.9 L2081.0 880.4 L2090.3 883.6 L2099.6 886.5 L2108.9 886.7 L2118.2 892.1 L2127.5 886.5" stroke-width="5"/><path d="M1577.9 885.7V916.2M1587.2 894.8V934.6M1596.5 880.0V922.6M1605.8 885.9V929.3M1615.1 889.8V930.5M1624.4 881.7V921.8M1633.8 879.7V924.8M1643.1 899.8V926.2M1652.4 886.3V913.6M1661.7 903.7V928.3M1671.0 888.5V919.1M1680.3 889.0V930.9M1689.7 875.2V911.8M1699.0 880.6V909.5M1708.3 860.9V893.6M1717.6 861.6V886.9M1726.9 839.2V872.9M1736.2 832.7V857.8M1745.6 832.6V863.1M1754.9 830.9V855.5M1764.2 833.8V873.0M1773.5 808.0V853.1M1782.8 810.8V846.3M1792.1 829.2V861.4M1801.5 834.0V876.7M1810.8 848.4V890.5M1820.1 864.4V893.7M1829.4 852.7V897.7M1838.7 868.4V909.6M1848.0 874.9V919.3M1857.4 877.9V908.7M1866.7 890.3V915.9M1876.0 885.0V913.4M1885.3 893.7V928.2M1894.6 883.6V925.7M1903.9 901.9V929.7M1913.3 887.6V927.5M1922.6 876.8V908.9M1931.9 879.7V924.8M1941.2 874.4V908.0M1950.5 888.2V912.0M1959.8 872.2V908.3M1969.2 876.8V920.2M1978.5 867.2V910.3M1987.8 871.1V908.0M1997.1 860.9V886.2M2006.4 860.8V906.4M2015.7 850.7V890.4M2025.1 852.1V897.8M2034.4 864.2V888.4M2043.7 862.5V890.3M2053.0 864.8V909.1M2062.3 862.5V900.5M2071.6 868.9V898.8M2081.0 867.5V893.2M2090.3 862.3V905.0M2099.6 865.6V907.5M2108.9 868.4V904.9M2118.2 878.9V905.4M2127.5 869.7V903.4" stroke-width="4.5"/><path d="M1570.4 885.7h15M1570.4 916.2h15M1579.7 894.8h15M1579.7 934.6h15M1589.0 880.0h15M1589.0 922.6h15M1598.3 885.9h15M1598.3 929.3h15M1607.6 889.8h15M1607.6 930.5h15M1616.9 881.7h15M1616.9 921.8h15M1626.3 879.7h15M1626.3 924.8h15M1635.6 899.8h15M1635.6 926.2h15M1644.9 886.3h15M1644.9 913.6h15M1654.2 903.7h15M1654.2 928.3h15M1663.5 888.5h15M1663.5 919.1h15M1672.8 889.0h15M1672.8 930.9h15M1682.2 875.2h15M1682.2 911.8h15M1691.5 880.6h15M1691.5 909.5h15M1700.8 860.9h15M1700.8 893.6h15M1710.1 861.6h15M1710.1 886.9h15M1719.4 839.2h15M1719.4 872.9h15M1728.7 832.7h15M1728.7 857.8h15M1738.1 832.6h15M1738.1 863.1h15M1747.4 830.9h15M1747.4 855.5h15M1756.7 833.8h15M1756.7 873.0h15M1766.0 808.0h15M1766.0 853.1h15M1775.3 810.8h15M1775.3 846.3h15M1784.6 829.2h15M1784.6 861.4h15M1794.0 834.0h15M1794.0 876.7h15M1803.3 848.4h15M1803.3 890.5h15M1812.6 864.4h15M1812.6 893.7h15M1821.9 852.7h15M1821.9 897.7h15M1831.2 868.4h15M1831.2 909.6h15M1840.5 874.9h15M1840.5 919.3h15M1849.9 877.9h15M1849.9 908.7h15M1859.2 890.3h15M1859.2 915.9h15M1868.5 885.0h15M1868.5 913.4h15M1877.8 893.7h15M1877.8 928.2h15M1887.1 883.6h15M1887.1 925.7h15M1896.4 901.9h15M1896.4 929.7h15M1905.8 887.6h15M1905.8 927.5h15M1915.1 876.8h15M1915.1 908.9h15M1924.4 879.7h15M1924.4 924.8h15M1933.7 874.4h15M1933.7 908.0h15M1943.0 888.2h15M1943.0 912.0h15M1952.3 872.2h15M1952.3 908.3h15M1961.7 876.8h15M1961.7 920.2h15M1971.0 867.2h15M1971.0 910.3h15M1980.3 871.1h15M1980.3 908.0h15M1989.6 860.9h15M1989.6 886.2h15M1998.9 860.8h15M1998.9 906.4h15M2008.2 850.7h15M2008.2 890.4h15M2017.6 852.1h15M2017.6 897.8h15M2026.9 864.2h15M2026.9 888.4h15M2036.2 862.5h15M2036.2 890.3h15M2045.5 864.8h15M2045.5 909.1h15M2054.8 862.5h15M2054.8 900.5h15M2064.1 868.9h15M2064.1 898.8h15M2073.5 867.5h15M2073.5 893.2h15M2082.8 862.3h15M2082.8 905.0h15M2092.1 865.6h15M2092.1 907.5h15M2101.4 868.4h15M2101.4 904.9h15M2110.7 878.9h15M2110.7 905.4h15M2120.0 869.7h15M2120.0 903.4h15" stroke-width="5"/></g>
<g stroke="#9fb3ab" fill="none" stroke-linejoin="miter" stroke-miterlimit="10"><path d="M1577.9 941.7 L1587.2 960.6 L1596.5 960.5 L1605.8 969.3 L1615.1 959.9 L1624.4 959.2 L1633.8 956.8 L1643.1 964.3 L1652.4 960.2 L1661.7 966.8 L1671.0 935.8 L1680.3 922.7 L1689.7 893.2 L1699.0 884.0 L1708.3 869.5 L1717.6 858.1 L1726.9 861.9 L1736.2 845.6 L1745.6 853.6 L1754.9 854.9 L1764.2 851.5 L1773.5 854.1 L1782.8 845.7 L1792.1 877.7 L1801.5 897.1 L1810.8 902.4 L1820.1 936.8 L1829.4 956.5 L1838.7 988.4 L1848.0 994.5 L1857.4 997.0 L1866.7 967.7 L1876.0 955.4 L1885.3 938.5 L1894.6 951.0 L1903.9 952.4 L1913.3 961.9 L1922.6 964.1 L1931.9 960.0 L1941.2 975.9 L1950.5 964.1 L1959.8 938.2 L1969.2 949.4 L1978.5 944.7 L1987.8 950.6 L1997.1 922.3 L2006.4 925.9 L2015.7 922.8 L2025.1 948.5 L2034.4 947.3 L2043.7 952.6 L2053.0 939.4 L2062.3 956.9 L2071.6 957.2 L2081.0 989.8 L2090.3 1010.4 L2099.6 1040.8 L2108.9 1036.5 L2118.2 1055.9 L2127.5 1072.3" stroke-width="5"/><path d="M1577.9 910.3V973.2M1587.2 928.3V992.9M1596.5 930.9V990.1M1605.8 936.2V1002.5M1615.1 927.0V992.8M1624.4 933.4V985.0M1633.8 927.7V986.0M1643.1 932.5V996.1M1652.4 930.2V990.1M1661.7 933.5V1000.1M1671.0 903.4V968.2M1680.3 896.7V948.6M1689.7 870.8V915.6M1699.0 857.2V910.7M1708.3 846.8V892.3M1717.6 829.5V886.7M1726.9 838.2V885.6M1736.2 820.1V871.0M1745.6 824.0V883.3M1754.9 828.6V881.3M1764.2 825.7V877.3M1773.5 827.5V880.7M1782.8 813.6V877.8M1792.1 850.4V905.0M1801.5 866.9V927.3M1810.8 873.2V931.5M1820.1 907.7V965.8M1829.4 929.5V983.6M1838.7 956.3V1020.6M1848.0 972.0V1017.1M1857.4 971.0V1023.0M1866.7 937.4V998.0M1876.0 926.1V984.8M1885.3 906.9V970.2M1894.6 918.3V983.7M1903.9 923.5V981.4M1913.3 932.6V991.3M1922.6 940.7V987.5M1931.9 931.3V988.8M1941.2 942.9V1008.9M1950.5 933.1V995.0M1959.8 908.2V968.1M1969.2 922.5V976.4M1978.5 920.8V968.6M1987.8 919.6V981.7M1997.1 898.7V945.9M2006.4 895.3V956.6M2015.7 892.0V953.6M2025.1 926.1V971.0M2034.4 921.3V973.3M2043.7 926.5V978.8M2053.0 914.7V964.0M2062.3 933.1V980.7M2071.6 933.4V981.0M2081.0 962.4V1017.3M2090.3 987.8V1033.0M2099.6 1014.4V1067.2M2108.9 1004.9V1068.2M2118.2 1029.3V1082.5M2127.5 1047.4V1097.1" stroke-width="4.5"/><path d="M1570.4 910.3h15M1570.4 973.2h15M1579.7 928.3h15M1579.7 992.9h15M1589.0 930.9h15M1589.0 990.1h15M1598.3 936.2h15M1598.3 1002.5h15M1607.6 927.0h15M1607.6 992.8h15M1616.9 933.4h15M1616.9 985.0h15M1626.3 927.7h15M1626.3 986.0h15M1635.6 932.5h15M1635.6 996.1h15M1644.9 930.2h15M1644.9 990.1h15M1654.2 933.5h15M1654.2 1000.1h15M1663.5 903.4h15M1663.5 968.2h15M1672.8 896.7h15M1672.8 948.6h15M1682.2 870.8h15M1682.2 915.6h15M1691.5 857.2h15M1691.5 910.7h15M1700.8 846.8h15M1700.8 892.3h15M1710.1 829.5h15M1710.1 886.7h15M1719.4 838.2h15M1719.4 885.6h15M1728.7 820.1h15M1728.7 871.0h15M1738.1 824.0h15M1738.1 883.3h15M1747.4 828.6h15M1747.4 881.3h15M1756.7 825.7h15M1756.7 877.3h15M1766.0 827.5h15M1766.0 880.7h15M1775.3 813.6h15M1775.3 877.8h15M1784.6 850.4h15M1784.6 905.0h15M1794.0 866.9h15M1794.0 927.3h15M1803.3 873.2h15M1803.3 931.5h15M1812.6 907.7h15M1812.6 965.8h15M1821.9 929.5h15M1821.9 983.6h15M1831.2 956.3h15M1831.2 1020.6h15M1840.5 972.0h15M1840.5 1017.1h15M1849.9 971.0h15M1849.9 1023.0h15M1859.2 937.4h15M1859.2 998.0h15M1868.5 926.1h15M1868.5 984.8h15M1877.8 906.9h15M1877.8 970.2h15M1887.1 918.3h15M1887.1 983.7h15M1896.4 923.5h15M1896.4 981.4h15M1905.8 932.6h15M1905.8 991.3h15M1915.1 940.7h15M1915.1 987.5h15M1924.4 931.3h15M1924.4 988.8h15M1933.7 942.9h15M1933.7 1008.9h15M1943.0 933.1h15M1943.0 995.0h15M1952.3 908.2h15M1952.3 968.1h15M1961.7 922.5h15M1961.7 976.4h15M1971.0 920.8h15M1971.0 968.6h15M1980.3 919.6h15M1980.3 981.7h15M1989.6 898.7h15M1989.6 945.9h15M1998.9 895.3h15M1998.9 956.6h15M2008.2 892.0h15M2008.2 953.6h15M2017.6 926.1h15M2017.6 971.0h15M2026.9 921.3h15M2026.9 973.3h15M2036.2 926.5h15M2036.2 978.8h15M2045.5 914.7h15M2045.5 964.0h15M2054.8 933.1h15M2054.8 980.7h15M2064.1 933.4h15M2064.1 981.0h15M2073.5 962.4h15M2073.5 1017.3h15M2082.8 987.8h15M2082.8 1033.0h15M2092.1 1014.4h15M2092.1 1067.2h15M2101.4 1004.9h15M2101.4 1068.2h15M2110.7 1029.3h15M2110.7 1082.5h15M2120.0 1047.4h15M2120.0 1097.1h15" stroke-width="5"/></g>
<g stroke="#e6a097" fill="none" stroke-linejoin="miter" stroke-miterlimit="10"><path d="M1577.9 921.5 L1587.2 915.3 L1596.5 929.5 L1605.8 915.2 L1615.1 925.7 L1624.4 917.7 L1633.8 927.8 L1643.1 922.2 L1652.4 933.0 L1661.7 929.3 L1671.0 931.9 L1680.3 924.4 L1689.7 909.1 L1699.0 916.2 L1708.3 894.4 L1717.6 884.5 L1726.9 863.8 L1736.2 858.0 L1745.6 847.7 L1754.9 855.5 L1764.2 840.1 L1773.5 834.4 L1782.8 830.3 L1792.1 854.8 L1801.5 863.3 L1810.8 891.1 L1820.1 918.7 L1829.4 938.9 L1838.7 967.7 L1848.0 968.3 L1857.4 978.5 L1866.7 973.2 L1876.0 964.3 L1885.3 952.7 L1894.6 968.8 L1903.9 960.4 L1913.3 943.8 L1922.6 940.1 L1931.9 932.3 L1941.2 927.2 L1950.5 912.1 L1959.8 921.5 L1969.2 919.9 L1978.5 918.2 L1987.8 914.8 L1997.1 915.2 L2006.4 910.0 L2015.7 912.7 L2025.1 924.1 L2034.4 923.6 L2043.7 915.4 L2053.0 927.5 L2062.3 928.6 L2071.6 948.2 L2081.0 957.5 L2090.3 963.9 L2099.6 958.8 L2108.9 960.9 L2118.2 979.1 L2127.5 972.4" stroke-width="5"/><path d="M1577.9 893.2V949.8M1587.2 892.4V938.2M1596.5 907.2V951.8M1605.8 894.6V935.8M1615.1 898.2V953.3M1624.4 898.2V937.3M1633.8 899.6V956.0M1643.1 896.7V947.6M1652.4 910.6V955.3M1661.7 903.6V954.9M1671.0 908.3V955.5M1680.3 899.1V949.8M1689.7 887.1V931.1M1699.0 887.2V945.2M1708.3 866.8V921.9M1717.6 864.6V904.3M1726.9 840.2V887.4M1736.2 836.1V879.9M1745.6 828.0V867.3M1754.9 830.8V880.2M1764.2 810.7V869.5M1773.5 805.5V863.2M1782.8 804.7V856.0M1792.1 827.8V881.9M1801.5 835.9V890.8M1810.8 868.2V914.0M1820.1 893.0V944.4M1829.4 919.4V958.4M1838.7 938.0V997.5M1848.0 941.0V995.7M1857.4 948.5V1008.5M1866.7 943.3V1003.0M1876.0 934.4V994.2M1885.3 927.2V978.2M1894.6 941.5V996.1M1903.9 933.4V987.5M1913.3 918.9V968.8M1922.6 916.0V964.1M1931.9 911.9V952.8M1941.2 904.9V949.4M1950.5 888.2V936.1M1959.8 891.9V951.0M1969.2 892.6V947.2M1978.5 896.7V939.7M1987.8 888.4V941.1M1997.1 887.6V942.7M2006.4 887.8V932.2M2015.7 883.0V942.4M2025.1 896.5V951.6M2034.4 894.8V952.4M2043.7 893.2V937.7M2053.0 908.2V946.7M2062.3 900.1V957.1M2071.6 918.8V977.6M2081.0 933.8V981.2M2090.3 940.1V987.8M2099.6 929.2V988.5M2108.9 941.5V980.2M2118.2 952.7V1005.5M2127.5 950.0V994.8" stroke-width="4.5"/><path d="M1570.4 893.2h15M1570.4 949.8h15M1579.7 892.4h15M1579.7 938.2h15M1589.0 907.2h15M1589.0 951.8h15M1598.3 894.6h15M1598.3 935.8h15M1607.6 898.2h15M1607.6 953.3h15M1616.9 898.2h15M1616.9 937.3h15M1626.3 899.6h15M1626.3 956.0h15M1635.6 896.7h15M1635.6 947.6h15M1644.9 910.6h15M1644.9 955.3h15M1654.2 903.6h15M1654.2 954.9h15M1663.5 908.3h15M1663.5 955.5h15M1672.8 899.1h15M1672.8 949.8h15M1682.2 887.1h15M1682.2 931.1h15M1691.5 887.2h15M1691.5 945.2h15M1700.8 866.8h15M1700.8 921.9h15M1710.1 864.6h15M1710.1 904.3h15M1719.4 840.2h15M1719.4 887.4h15M1728.7 836.1h15M1728.7 879.9h15M1738.1 828.0h15M1738.1 867.3h15M1747.4 830.8h15M1747.4 880.2h15M1756.7 810.7h15M1756.7 869.5h15M1766.0 805.5h15M1766.0 863.2h15M1775.3 804.7h15M1775.3 856.0h15M1784.6 827.8h15M1784.6 881.9h15M1794.0 835.9h15M1794.0 890.8h15M1803.3 868.2h15M1803.3 914.0h15M1812.6 893.0h15M1812.6 944.4h15M1821.9 919.4h15M1821.9 958.4h15M1831.2 938.0h15M1831.2 997.5h15M1840.5 941.0h15M1840.5 995.7h15M1849.9 948.5h15M1849.9 1008.5h15M1859.2 943.3h15M1859.2 1003.0h15M1868.5 934.4h15M1868.5 994.2h15M1877.8 927.2h15M1877.8 978.2h15M1887.1 941.5h15M1887.1 996.1h15M1896.4 933.4h15M1896.4 987.5h15M1905.8 918.9h15M1905.8 968.8h15M1915.1 916.0h15M1915.1 964.1h15M1924.4 911.9h15M1924.4 952.8h15M1933.7 904.9h15M1933.7 949.4h15M1943.0 888.2h15M1943.0 936.1h15M1952.3 891.9h15M1952.3 951.0h15M1961.7 892.6h15M1961.7 947.2h15M1971.0 896.7h15M1971.0 939.7h15M1980.3 888.4h15M1980.3 941.1h15M1989.6 887.6h15M1989.6 942.7h15M1998.9 887.8h15M1998.9 932.2h15M2008.2 883.0h15M2008.2 942.4h15M2017.6 896.5h15M2017.6 951.6h15M2026.9 894.8h15M2026.9 952.4h15M2036.2 893.2h15M2036.2 937.7h15M2045.5 908.2h15M2045.5 946.7h15M2054.8 900.1h15M2054.8 957.1h15M2064.1 918.8h15M2064.1 977.6h15M2073.5 933.8h15M2073.5 981.2h15M2082.8 940.1h15M2082.8 987.8h15M2092.1 929.2h15M2092.1 988.5h15M2101.4 941.5h15M2101.4 980.2h15M2110.7 952.7h15M2110.7 1005.5h15M2120.0 950.0h15M2120.0 994.8h15" stroke-width="5"/></g>
<g stroke="#ab0c29" fill="none"><path d="M1919.4 121.8H1993.0" stroke-width="4.6"/><path d="M1956.5 111.2V133.0" stroke-width="4"/><path d="M1949.5 111.2h14M1949.5 133.0h14" stroke-width="4"/></g>
<text x="1999.5" y="130.0" class="lg">Monkey V</text>
<g stroke="#14244e" fill="none"><path d="M1919.4 149.7H1993.0" stroke-width="4.6"/><path d="M1956.5 139.1V160.9" stroke-width="4"/><path d="M1949.5 139.1h14M1949.5 160.9h14" stroke-width="4"/></g>
<text x="1999.5" y="159.4" class="lg">Monkey W</text>
<g stroke="#2f5e4c" fill="none"><path d="M1855.0 1208.5H1928.7" stroke-width="4.6"/><path d="M1891.9 1197.7V1219.3" stroke-width="4"/><path d="M1884.5 1197.7h14.8M1884.5 1219.3h14.8" stroke-width="4"/></g>
<text x="1935.1" y="1216.0" class="lb">reject, certain</text>
<g stroke="#c44a37" fill="none"><path d="M1855.0 1237.5H1928.7" stroke-width="4.6"/><path d="M1891.9 1226.7V1248.3" stroke-width="4"/><path d="M1884.5 1226.7h14.8M1884.5 1248.3h14.8" stroke-width="4"/></g>
<text x="1935.1" y="1245.0" class="lb">accept certain</text>
<g stroke="#9fb3ab" fill="none"><path d="M1855.0 1266.5H1928.7" stroke-width="4.6"/><path d="M1891.9 1255.7V1277.3" stroke-width="4"/><path d="M1884.5 1255.7h14.8M1884.5 1277.3h14.8" stroke-width="4"/></g>
<text x="1935.1" y="1274.0" class="lb">reject, uncertain</text>
<g stroke="#e6a097" fill="none"><path d="M1855.0 1295.5H1928.7" stroke-width="4.6"/><path d="M1891.9 1284.7V1306.3" stroke-width="4"/><path d="M1884.5 1284.7h14.8M1884.5 1306.3h14.8" stroke-width="4"/></g>
<text x="1935.1" y="1303.0" class="lb">accept, uncertain</text>
<g class="st" text-anchor="middle"><text x="1806.0" y="649.6">*</text><text x="1824.7" y="649.6">*</text><text x="1834.0" y="649.6">*</text><text x="1843.3" y="649.6">*</text><text x="1852.6" y="649.6">*</text><text x="1861.9" y="649.6">*</text><text x="1871.2" y="649.6">*</text><text x="1880.6" y="649.6">*</text><text x="1889.9" y="649.6">*</text><text x="1899.2" y="649.6">*</text><text x="1908.5" y="649.6">*</text><text x="1917.8" y="649.6">*</text><text x="1936.5" y="649.6">*</text><text x="1945.8" y="649.6">*</text><text x="1964.4" y="649.6">*</text><text x="1973.7" y="649.6">*</text><text x="1983.0" y="649.6">*</text><text x="1992.4" y="649.6">*</text><text x="2001.7" y="649.6">*</text><text x="2029.6" y="649.6">*</text><text x="2038.9" y="649.6">*</text><text x="2057.6" y="649.6">*</text><text x="1806.0" y="638.4">*</text><text x="1824.7" y="638.4">*</text><text x="1834.0" y="638.4">*</text><text x="1843.3" y="638.4">*</text><text x="1852.6" y="638.4">*</text><text x="1861.9" y="638.4">*</text><text x="1871.2" y="638.4">*</text><text x="1880.6" y="638.4">*</text><text x="1889.9" y="638.4">*</text><text x="1917.8" y="638.4">*</text><text x="1936.5" y="638.4">*</text><text x="1945.8" y="638.4">*</text><text x="1973.7" y="638.4">*</text><text x="1983.0" y="638.4">*</text><text x="1992.4" y="638.4">*</text><text x="2001.7" y="638.4">*</text><text x="2029.6" y="638.4">*</text><text x="2038.9" y="638.4">*</text><text x="1806.0" y="627.2">*</text><text x="1843.3" y="627.2">*</text><text x="1852.6" y="627.2">*</text><text x="1861.9" y="627.2">*</text><text x="1871.2" y="627.2">*</text><text x="1880.6" y="627.2">*</text><text x="1889.9" y="627.2">*</text><text x="1945.8" y="627.2">*</text><text x="1992.4" y="627.2">*</text></g>
<g class="st" text-anchor="middle"><text x="1610.4" y="822.6">*</text><text x="1750.1" y="822.6">*</text><text x="1806.0" y="822.6">*</text><text x="1824.7" y="822.6">*</text><text x="1834.0" y="822.6">*</text><text x="1843.3" y="822.6">*</text><text x="1852.6" y="822.6">*</text><text x="1861.9" y="822.6">*</text><text x="1871.2" y="822.6">*</text><text x="1880.6" y="822.6">*</text><text x="1889.9" y="822.6">*</text><text x="1899.2" y="822.6">*</text><text x="1908.5" y="822.6">*</text><text x="1917.8" y="822.6">*</text><text x="1936.5" y="822.6">*</text><text x="1945.8" y="822.6">*</text><text x="1983.0" y="822.6">*</text><text x="1992.4" y="822.6">*</text><text x="2029.6" y="822.6">*</text><text x="2038.9" y="822.6">*</text><text x="2066.9" y="822.6">*</text><text x="2085.5" y="822.6">*</text><text x="1806.0" y="811.3">*</text><text x="1824.7" y="811.3">*</text><text x="1834.0" y="811.3">*</text><text x="1843.3" y="811.3">*</text><text x="1852.6" y="811.3">*</text><text x="1861.9" y="811.3">*</text><text x="1871.2" y="811.3">*</text><text x="1880.6" y="811.3">*</text><text x="1889.9" y="811.3">*</text><text x="1917.8" y="811.3">*</text><text x="1936.5" y="811.3">*</text><text x="1945.8" y="811.3">*</text><text x="1983.0" y="811.3">*</text><text x="2029.6" y="811.3">*</text><text x="2038.9" y="811.3">*</text><text x="1806.0" y="800.0">*</text><text x="1834.0" y="800.0">*</text><text x="1843.3" y="800.0">*</text><text x="1852.6" y="800.0">*</text><text x="1871.2" y="800.0">*</text><text x="1880.6" y="800.0">*</text><text x="1917.8" y="800.0">*</text><text x="2038.9" y="800.0">*</text></g>
</svg></body></html>
